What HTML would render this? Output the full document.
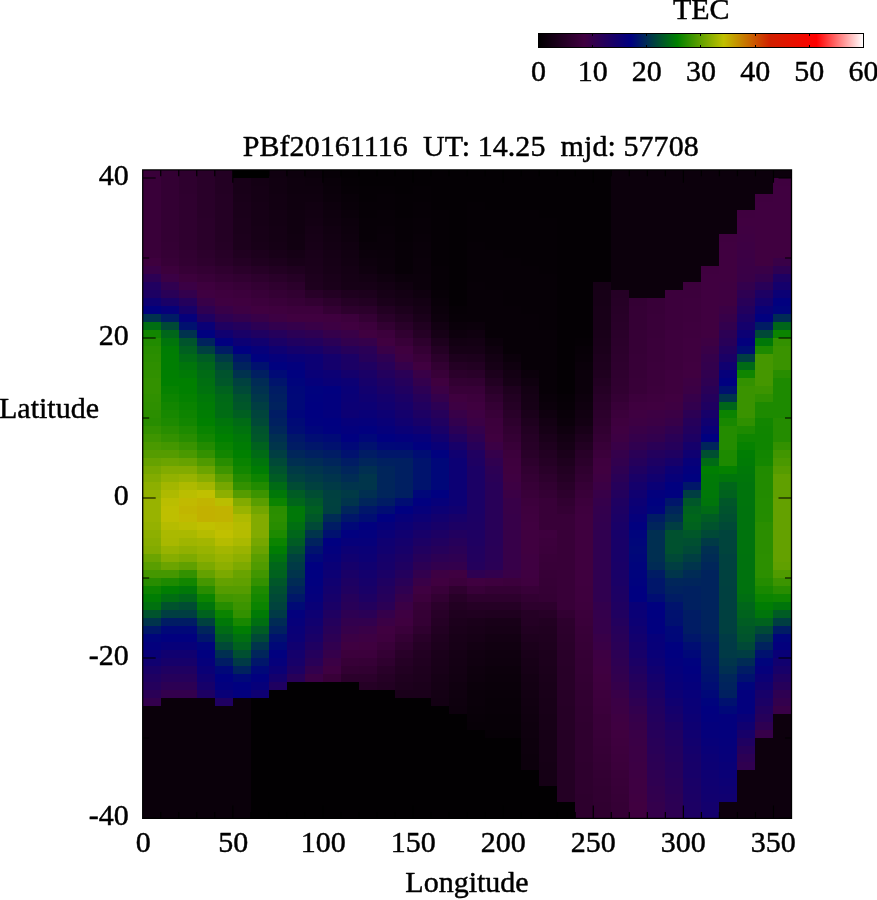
<!DOCTYPE html>
<html lang="en"><head><meta charset="utf-8"><title>TEC map</title>
<style>html,body{margin:0;padding:0;background:#fff;overflow:hidden}svg{display:block}text{font-family:"Liberation Serif",serif;font-size:30px;fill:#000;stroke:#000;stroke-width:.45px;stroke-linejoin:round}</style></head><body>
<svg width="877" height="900" viewBox="0 0 877 900">
<rect width="877" height="900" fill="#fff"/>
<defs><linearGradient id="cb" x1="0" x2="1" y1="0" y2="0"><stop offset="0.00000" stop-color="#000000"/><stop offset="0.14286" stop-color="#400040"/><stop offset="0.28571" stop-color="#000080"/><stop offset="0.42857" stop-color="#008000"/><stop offset="0.57143" stop-color="#c0c000"/><stop offset="0.71429" stop-color="#d02000"/><stop offset="0.85714" stop-color="#ff0000"/><stop offset="1.00000" stop-color="#ffffff"/></linearGradient></defs>
<rect x="538" y="33" width="325" height="14" fill="url(#cb)"/>
<g shape-rendering="crispEdges">
<rect x="143" y="706" width="18" height="112" fill="#0a000a"/><rect x="143" y="698" width="18" height="8" fill="#33004d"/><rect x="143" y="690" width="18" height="8" fill="#2a0056"/><rect x="143" y="682" width="18" height="8" fill="#24005c"/><rect x="143" y="674" width="18" height="8" fill="#1f0061"/><rect x="143" y="666" width="18" height="8" fill="#190067"/><rect x="143" y="658" width="18" height="8" fill="#100070"/><rect x="143" y="650" width="18" height="8" fill="#090077"/><rect x="143" y="642" width="18" height="8" fill="#03007d"/><rect x="143" y="634" width="18" height="8" fill="#00047c"/><rect x="143" y="626" width="18" height="8" fill="#001769"/><rect x="143" y="618" width="18" height="8" fill="#00344c"/><rect x="143" y="610" width="18" height="8" fill="#00532d"/><rect x="143" y="602" width="18" height="8" fill="#00710f"/><rect x="143" y="594" width="18" height="8" fill="#007d03"/><rect x="143" y="586" width="18" height="8" fill="#0d8400"/><rect x="143" y="578" width="18" height="8" fill="#288d00"/><rect x="143" y="570" width="18" height="8" fill="#459700"/><rect x="143" y="562" width="18" height="8" fill="#599e00"/><rect x="143" y="554" width="18" height="8" fill="#6ba400"/><rect x="143" y="546" width="18" height="8" fill="#82ab00"/><rect x="143" y="538" width="18" height="8" fill="#88ad00"/><rect x="143" y="530" width="18" height="8" fill="#8daf00"/><rect x="143" y="522" width="18" height="8" fill="#94b100"/><rect x="143" y="498" width="18" height="24" fill="#98b300"/><rect x="143" y="490" width="18" height="8" fill="#92b100"/><rect x="143" y="482" width="18" height="8" fill="#8daf00"/><rect x="143" y="474" width="18" height="8" fill="#82ab00"/><rect x="143" y="466" width="18" height="8" fill="#76a700"/><rect x="143" y="458" width="18" height="8" fill="#66a200"/><rect x="143" y="450" width="18" height="8" fill="#559c00"/><rect x="143" y="442" width="18" height="8" fill="#4a9900"/><rect x="143" y="434" width="18" height="8" fill="#3e9500"/><rect x="143" y="426" width="18" height="8" fill="#339100"/><rect x="143" y="418" width="18" height="8" fill="#288d00"/><rect x="143" y="410" width="18" height="8" fill="#2b8e00"/><rect x="143" y="402" width="18" height="8" fill="#2e8f00"/><rect x="143" y="394" width="18" height="8" fill="#309000"/><rect x="143" y="378" width="18" height="16" fill="#339100"/><rect x="143" y="370" width="18" height="8" fill="#309000"/><rect x="143" y="362" width="18" height="8" fill="#2e8f00"/><rect x="143" y="354" width="18" height="8" fill="#2b8e00"/><rect x="143" y="346" width="18" height="8" fill="#288d00"/><rect x="143" y="338" width="18" height="8" fill="#218b00"/><rect x="143" y="330" width="18" height="8" fill="#128600"/><rect x="143" y="322" width="18" height="8" fill="#006e12"/><rect x="143" y="314" width="18" height="8" fill="#00324e"/><rect x="143" y="306" width="18" height="8" fill="#01007f"/><rect x="143" y="298" width="18" height="8" fill="#0e0072"/><rect x="143" y="290" width="18" height="8" fill="#1d0063"/><rect x="143" y="282" width="18" height="8" fill="#200060"/><rect x="143" y="274" width="18" height="8" fill="#2c0054"/><rect x="143" y="266" width="18" height="8" fill="#390047"/><rect x="143" y="258" width="18" height="8" fill="#3e003e"/><rect x="143" y="250" width="18" height="8" fill="#3a003a"/><rect x="143" y="170" width="18" height="80" fill="#390039"/>
<rect x="161" y="698" width="18" height="120" fill="#0a000a"/><rect x="161" y="690" width="18" height="8" fill="#33004d"/><rect x="161" y="682" width="18" height="8" fill="#2c0054"/><rect x="161" y="674" width="18" height="8" fill="#25005b"/><rect x="161" y="666" width="18" height="8" fill="#1f0061"/><rect x="161" y="658" width="18" height="8" fill="#16006a"/><rect x="161" y="650" width="18" height="8" fill="#100070"/><rect x="161" y="642" width="18" height="8" fill="#070079"/><rect x="161" y="634" width="18" height="8" fill="#01007f"/><rect x="161" y="626" width="18" height="8" fill="#000878"/><rect x="161" y="618" width="18" height="8" fill="#001c64"/><rect x="161" y="610" width="18" height="8" fill="#003e42"/><rect x="161" y="602" width="18" height="8" fill="#00532d"/><rect x="161" y="594" width="18" height="8" fill="#006e12"/><rect x="161" y="586" width="18" height="8" fill="#007e02"/><rect x="161" y="578" width="18" height="8" fill="#1d8a00"/><rect x="161" y="570" width="18" height="8" fill="#459700"/><rect x="161" y="562" width="18" height="8" fill="#6ba400"/><rect x="161" y="554" width="18" height="8" fill="#86ad00"/><rect x="161" y="546" width="18" height="8" fill="#98b300"/><rect x="161" y="538" width="18" height="8" fill="#a8b800"/><rect x="161" y="530" width="18" height="8" fill="#aab900"/><rect x="161" y="522" width="18" height="8" fill="#b5bc00"/><rect x="161" y="506" width="18" height="16" fill="#bebf00"/><rect x="161" y="498" width="18" height="8" fill="#babe00"/><rect x="161" y="490" width="18" height="8" fill="#aeba00"/><rect x="161" y="482" width="18" height="8" fill="#a3b600"/><rect x="161" y="474" width="18" height="8" fill="#92b100"/><rect x="161" y="466" width="18" height="8" fill="#82ab00"/><rect x="161" y="458" width="18" height="8" fill="#6ba400"/><rect x="161" y="450" width="18" height="8" fill="#559c00"/><rect x="161" y="442" width="18" height="8" fill="#449700"/><rect x="161" y="434" width="18" height="8" fill="#339100"/><rect x="161" y="426" width="18" height="8" fill="#288d00"/><rect x="161" y="418" width="18" height="8" fill="#1d8a00"/><rect x="161" y="410" width="18" height="8" fill="#178800"/><rect x="161" y="402" width="18" height="8" fill="#128600"/><rect x="161" y="394" width="18" height="8" fill="#0c8400"/><rect x="161" y="386" width="18" height="8" fill="#068200"/><rect x="161" y="378" width="18" height="8" fill="#008000"/><rect x="161" y="370" width="18" height="8" fill="#007f01"/><rect x="161" y="354" width="18" height="16" fill="#007e02"/><rect x="161" y="346" width="18" height="8" fill="#007d03"/><rect x="161" y="338" width="18" height="8" fill="#00750b"/><rect x="161" y="330" width="18" height="8" fill="#00661a"/><rect x="161" y="322" width="18" height="8" fill="#004937"/><rect x="161" y="314" width="18" height="8" fill="#001c64"/><rect x="161" y="306" width="18" height="8" fill="#06007a"/><rect x="161" y="298" width="18" height="8" fill="#190067"/><rect x="161" y="290" width="18" height="8" fill="#290057"/><rect x="161" y="282" width="18" height="8" fill="#300050"/><rect x="161" y="274" width="18" height="8" fill="#3b0045"/><rect x="161" y="266" width="18" height="8" fill="#3c003c"/><rect x="161" y="258" width="18" height="8" fill="#370037"/><rect x="161" y="250" width="18" height="8" fill="#350035"/><rect x="161" y="242" width="18" height="8" fill="#340034"/><rect x="161" y="170" width="18" height="72" fill="#330033"/>
<rect x="179" y="698" width="18" height="120" fill="#0a000a"/><rect x="179" y="690" width="18" height="8" fill="#33004d"/><rect x="179" y="682" width="18" height="8" fill="#2c0054"/><rect x="179" y="674" width="18" height="8" fill="#25005b"/><rect x="179" y="666" width="18" height="8" fill="#1f0061"/><rect x="179" y="658" width="18" height="8" fill="#16006a"/><rect x="179" y="650" width="18" height="8" fill="#100070"/><rect x="179" y="642" width="18" height="8" fill="#070079"/><rect x="179" y="634" width="18" height="8" fill="#01007f"/><rect x="179" y="626" width="18" height="8" fill="#000878"/><rect x="179" y="618" width="18" height="8" fill="#001c64"/><rect x="179" y="610" width="18" height="8" fill="#003e42"/><rect x="179" y="602" width="18" height="8" fill="#004d33"/><rect x="179" y="594" width="18" height="8" fill="#00661a"/><rect x="179" y="586" width="18" height="8" fill="#007808"/><rect x="179" y="578" width="18" height="8" fill="#128600"/><rect x="179" y="570" width="18" height="8" fill="#339100"/><rect x="179" y="562" width="18" height="8" fill="#60a000"/><rect x="179" y="554" width="18" height="8" fill="#7daa00"/><rect x="179" y="546" width="18" height="8" fill="#91b000"/><rect x="179" y="538" width="18" height="8" fill="#9fb500"/><rect x="179" y="530" width="18" height="8" fill="#aab900"/><rect x="179" y="522" width="18" height="8" fill="#babe00"/><rect x="179" y="514" width="18" height="8" fill="#c1ba00"/><rect x="179" y="506" width="18" height="8" fill="#c1b600"/><rect x="179" y="498" width="18" height="8" fill="#c1ba00"/><rect x="179" y="490" width="18" height="8" fill="#babe00"/><rect x="179" y="482" width="18" height="8" fill="#aeba00"/><rect x="179" y="474" width="18" height="8" fill="#98b300"/><rect x="179" y="466" width="18" height="8" fill="#82ab00"/><rect x="179" y="458" width="18" height="8" fill="#66a200"/><rect x="179" y="450" width="18" height="8" fill="#4a9900"/><rect x="179" y="442" width="18" height="8" fill="#399300"/><rect x="179" y="434" width="18" height="8" fill="#288d00"/><rect x="179" y="426" width="18" height="8" fill="#1d8a00"/><rect x="179" y="418" width="18" height="8" fill="#128600"/><rect x="179" y="410" width="18" height="8" fill="#0d8400"/><rect x="179" y="402" width="18" height="8" fill="#098300"/><rect x="179" y="394" width="18" height="8" fill="#048100"/><rect x="179" y="378" width="18" height="16" fill="#008000"/><rect x="179" y="370" width="18" height="8" fill="#007a06"/><rect x="179" y="362" width="18" height="8" fill="#00750b"/><rect x="179" y="354" width="18" height="8" fill="#006b15"/><rect x="179" y="346" width="18" height="8" fill="#006020"/><rect x="179" y="338" width="18" height="8" fill="#00542c"/><rect x="179" y="330" width="18" height="8" fill="#00324e"/><rect x="179" y="322" width="18" height="8" fill="#00116f"/><rect x="179" y="314" width="18" height="8" fill="#05007b"/><rect x="179" y="306" width="18" height="8" fill="#170069"/><rect x="179" y="298" width="18" height="8" fill="#24005c"/><rect x="179" y="290" width="18" height="8" fill="#33004d"/><rect x="179" y="282" width="18" height="8" fill="#3b0045"/><rect x="179" y="274" width="18" height="8" fill="#3c003c"/><rect x="179" y="266" width="18" height="8" fill="#360036"/><rect x="179" y="258" width="18" height="8" fill="#320032"/><rect x="179" y="250" width="18" height="8" fill="#310031"/><rect x="179" y="194" width="18" height="56" fill="#2f002f"/><rect x="179" y="170" width="18" height="24" fill="#2e002e"/>
<rect x="197" y="698" width="18" height="120" fill="#0a000a"/><rect x="197" y="690" width="18" height="8" fill="#1d0063"/><rect x="197" y="682" width="18" height="8" fill="#16006a"/><rect x="197" y="674" width="18" height="8" fill="#100070"/><rect x="197" y="666" width="18" height="8" fill="#0a0076"/><rect x="197" y="658" width="18" height="8" fill="#05007b"/><rect x="197" y="650" width="18" height="8" fill="#01007f"/><rect x="197" y="642" width="18" height="8" fill="#00047c"/><rect x="197" y="634" width="18" height="8" fill="#00166a"/><rect x="197" y="626" width="18" height="8" fill="#00255b"/><rect x="197" y="618" width="18" height="8" fill="#00413f"/><rect x="197" y="610" width="18" height="8" fill="#00621e"/><rect x="197" y="602" width="18" height="8" fill="#00750b"/><rect x="197" y="594" width="18" height="8" fill="#0b8400"/><rect x="197" y="586" width="18" height="8" fill="#288d00"/><rect x="197" y="578" width="18" height="8" fill="#459700"/><rect x="197" y="570" width="18" height="8" fill="#64a100"/><rect x="197" y="562" width="18" height="8" fill="#7ba900"/><rect x="197" y="554" width="18" height="8" fill="#8daf00"/><rect x="197" y="546" width="18" height="8" fill="#98b300"/><rect x="197" y="538" width="18" height="8" fill="#a3b600"/><rect x="197" y="530" width="18" height="8" fill="#b5bc00"/><rect x="197" y="522" width="18" height="8" fill="#c0c000"/><rect x="197" y="506" width="18" height="16" fill="#c2b100"/><rect x="197" y="498" width="18" height="8" fill="#c1b500"/><rect x="197" y="490" width="18" height="8" fill="#c0c000"/><rect x="197" y="482" width="18" height="8" fill="#a3b600"/><rect x="197" y="474" width="18" height="8" fill="#87ad00"/><rect x="197" y="466" width="18" height="8" fill="#6ba400"/><rect x="197" y="458" width="18" height="8" fill="#4f9a00"/><rect x="197" y="450" width="18" height="8" fill="#339100"/><rect x="197" y="442" width="18" height="8" fill="#228b00"/><rect x="197" y="434" width="18" height="8" fill="#128600"/><rect x="197" y="426" width="18" height="8" fill="#098300"/><rect x="197" y="418" width="18" height="8" fill="#008000"/><rect x="197" y="410" width="18" height="8" fill="#007d03"/><rect x="197" y="402" width="18" height="8" fill="#007b05"/><rect x="197" y="394" width="18" height="8" fill="#007808"/><rect x="197" y="386" width="18" height="8" fill="#00720e"/><rect x="197" y="378" width="18" height="8" fill="#006f11"/><rect x="197" y="370" width="18" height="8" fill="#006b15"/><rect x="197" y="362" width="18" height="8" fill="#00661a"/><rect x="197" y="354" width="18" height="8" fill="#005c24"/><rect x="197" y="346" width="18" height="8" fill="#004040"/><rect x="197" y="338" width="18" height="8" fill="#00235d"/><rect x="197" y="330" width="18" height="8" fill="#00017f"/><rect x="197" y="322" width="18" height="8" fill="#0a0076"/><rect x="197" y="314" width="18" height="8" fill="#1f0061"/><rect x="197" y="306" width="18" height="8" fill="#2e0052"/><rect x="197" y="298" width="18" height="8" fill="#380048"/><rect x="197" y="290" width="18" height="8" fill="#3f0041"/><rect x="197" y="282" width="18" height="8" fill="#3e003e"/><rect x="197" y="274" width="18" height="8" fill="#380038"/><rect x="197" y="266" width="18" height="8" fill="#330033"/><rect x="197" y="258" width="18" height="8" fill="#2e002e"/><rect x="197" y="250" width="18" height="8" fill="#2c002c"/><rect x="197" y="218" width="18" height="32" fill="#2a002a"/><rect x="197" y="170" width="18" height="48" fill="#290029"/>
<rect x="215" y="706" width="18" height="112" fill="#0a000a"/><rect x="215" y="698" width="18" height="8" fill="#1f0061"/><rect x="215" y="690" width="18" height="8" fill="#090077"/><rect x="215" y="682" width="18" height="8" fill="#03007d"/><rect x="215" y="674" width="18" height="8" fill="#000080"/><rect x="215" y="666" width="18" height="8" fill="#000878"/><rect x="215" y="658" width="18" height="8" fill="#001c64"/><rect x="215" y="650" width="18" height="8" fill="#002f51"/><rect x="215" y="642" width="18" height="8" fill="#004937"/><rect x="215" y="634" width="18" height="8" fill="#005c24"/><rect x="215" y="626" width="18" height="8" fill="#006b15"/><rect x="215" y="618" width="18" height="8" fill="#007808"/><rect x="215" y="610" width="18" height="8" fill="#0b8400"/><rect x="215" y="602" width="18" height="8" fill="#268d00"/><rect x="215" y="594" width="18" height="8" fill="#419600"/><rect x="215" y="586" width="18" height="8" fill="#559c00"/><rect x="215" y="578" width="18" height="8" fill="#64a100"/><rect x="215" y="570" width="18" height="8" fill="#7ba900"/><rect x="215" y="562" width="18" height="8" fill="#8daf00"/><rect x="215" y="554" width="18" height="8" fill="#98b300"/><rect x="215" y="546" width="18" height="8" fill="#a3b600"/><rect x="215" y="538" width="18" height="8" fill="#b5bc00"/><rect x="215" y="530" width="18" height="8" fill="#c0c000"/><rect x="215" y="522" width="18" height="8" fill="#c0bc00"/><rect x="215" y="506" width="18" height="16" fill="#c1b300"/><rect x="215" y="498" width="18" height="8" fill="#babe00"/><rect x="215" y="490" width="18" height="8" fill="#8daf00"/><rect x="215" y="482" width="18" height="8" fill="#76a700"/><rect x="215" y="474" width="18" height="8" fill="#5a9e00"/><rect x="215" y="466" width="18" height="8" fill="#3e9500"/><rect x="215" y="458" width="18" height="8" fill="#288d00"/><rect x="215" y="450" width="18" height="8" fill="#128600"/><rect x="215" y="442" width="18" height="8" fill="#098300"/><rect x="215" y="434" width="18" height="8" fill="#008000"/><rect x="215" y="426" width="18" height="8" fill="#007b05"/><rect x="215" y="418" width="18" height="8" fill="#00750b"/><rect x="215" y="410" width="18" height="8" fill="#006c14"/><rect x="215" y="402" width="18" height="8" fill="#006b15"/><rect x="215" y="394" width="18" height="8" fill="#006917"/><rect x="215" y="386" width="18" height="8" fill="#00621e"/><rect x="215" y="378" width="18" height="8" fill="#005729"/><rect x="215" y="370" width="18" height="8" fill="#00532d"/><rect x="215" y="362" width="18" height="8" fill="#004937"/><rect x="215" y="354" width="18" height="8" fill="#003a46"/><rect x="215" y="346" width="18" height="8" fill="#001c64"/><rect x="215" y="338" width="18" height="8" fill="#01007f"/><rect x="215" y="330" width="18" height="8" fill="#100070"/><rect x="215" y="322" width="18" height="8" fill="#1f0061"/><rect x="215" y="314" width="18" height="8" fill="#2e0052"/><rect x="215" y="306" width="18" height="8" fill="#380048"/><rect x="215" y="298" width="18" height="8" fill="#3f0041"/><rect x="215" y="290" width="18" height="8" fill="#3e003e"/><rect x="215" y="282" width="18" height="8" fill="#3a003a"/><rect x="215" y="274" width="18" height="8" fill="#340034"/><rect x="215" y="266" width="18" height="8" fill="#2f002f"/><rect x="215" y="258" width="18" height="8" fill="#290029"/><rect x="215" y="250" width="18" height="8" fill="#270027"/><rect x="215" y="242" width="18" height="8" fill="#250025"/><rect x="215" y="194" width="18" height="48" fill="#240024"/><rect x="215" y="170" width="18" height="24" fill="#230023"/>
<rect x="233" y="698" width="18" height="120" fill="#0a000a"/><rect x="233" y="690" width="18" height="8" fill="#03007d"/><rect x="233" y="682" width="18" height="8" fill="#000080"/><rect x="233" y="674" width="18" height="8" fill="#000878"/><rect x="233" y="666" width="18" height="8" fill="#00225e"/><rect x="233" y="658" width="18" height="8" fill="#003a46"/><rect x="233" y="650" width="18" height="8" fill="#004f31"/><rect x="233" y="642" width="18" height="8" fill="#00621e"/><rect x="233" y="634" width="18" height="8" fill="#006f11"/><rect x="233" y="626" width="18" height="8" fill="#007d03"/><rect x="233" y="618" width="18" height="8" fill="#188800"/><rect x="233" y="610" width="18" height="8" fill="#339100"/><rect x="233" y="602" width="18" height="8" fill="#3c9400"/><rect x="233" y="594" width="18" height="8" fill="#459700"/><rect x="233" y="586" width="18" height="8" fill="#559c00"/><rect x="233" y="578" width="18" height="8" fill="#60a000"/><rect x="233" y="570" width="18" height="8" fill="#69a300"/><rect x="233" y="562" width="18" height="8" fill="#7daa00"/><rect x="233" y="554" width="18" height="8" fill="#8daf00"/><rect x="233" y="546" width="18" height="8" fill="#9ab300"/><rect x="233" y="538" width="18" height="8" fill="#aab900"/><rect x="233" y="522" width="18" height="16" fill="#b5bc00"/><rect x="233" y="514" width="18" height="8" fill="#aeba00"/><rect x="233" y="506" width="18" height="8" fill="#98b300"/><rect x="233" y="498" width="18" height="8" fill="#82ab00"/><rect x="233" y="490" width="18" height="8" fill="#559c00"/><rect x="233" y="482" width="18" height="8" fill="#339100"/><rect x="233" y="474" width="18" height="8" fill="#228b00"/><rect x="233" y="466" width="18" height="8" fill="#128600"/><rect x="233" y="458" width="18" height="8" fill="#098300"/><rect x="233" y="450" width="18" height="8" fill="#008000"/><rect x="233" y="442" width="18" height="8" fill="#007c04"/><rect x="233" y="434" width="18" height="8" fill="#007808"/><rect x="233" y="426" width="18" height="8" fill="#00720e"/><rect x="233" y="418" width="18" height="8" fill="#006b15"/><rect x="233" y="410" width="18" height="8" fill="#005f21"/><rect x="233" y="402" width="18" height="8" fill="#005729"/><rect x="233" y="394" width="18" height="8" fill="#00532d"/><rect x="233" y="386" width="18" height="8" fill="#004937"/><rect x="233" y="378" width="18" height="8" fill="#00413f"/><rect x="233" y="370" width="18" height="8" fill="#00324e"/><rect x="233" y="362" width="18" height="8" fill="#00235d"/><rect x="233" y="354" width="18" height="8" fill="#001769"/><rect x="233" y="346" width="18" height="8" fill="#000080"/><rect x="233" y="338" width="18" height="8" fill="#0c0074"/><rect x="233" y="330" width="18" height="8" fill="#190067"/><rect x="233" y="322" width="18" height="8" fill="#24005c"/><rect x="233" y="314" width="18" height="8" fill="#33004d"/><rect x="233" y="306" width="18" height="8" fill="#3d0043"/><rect x="233" y="298" width="18" height="8" fill="#3f003f"/><rect x="233" y="290" width="18" height="8" fill="#3c003c"/><rect x="233" y="282" width="18" height="8" fill="#370037"/><rect x="233" y="274" width="18" height="8" fill="#310031"/><rect x="233" y="266" width="18" height="8" fill="#2a002a"/><rect x="233" y="258" width="18" height="8" fill="#240024"/><rect x="233" y="250" width="18" height="8" fill="#200020"/><rect x="233" y="234" width="18" height="16" fill="#1c001c"/><rect x="233" y="218" width="18" height="16" fill="#1b001b"/><rect x="233" y="202" width="18" height="16" fill="#1a001a"/><rect x="233" y="194" width="18" height="8" fill="#190019"/><rect x="233" y="178" width="18" height="16" fill="#180018"/><rect x="233" y="170" width="18" height="8" fill="#000000"/>
<rect x="251" y="698" width="18" height="120" fill="#020002"/><rect x="251" y="690" width="18" height="8" fill="#0e0072"/><rect x="251" y="682" width="18" height="8" fill="#06007a"/><rect x="251" y="674" width="18" height="8" fill="#01007f"/><rect x="251" y="666" width="18" height="8" fill="#000878"/><rect x="251" y="658" width="18" height="8" fill="#00166a"/><rect x="251" y="650" width="18" height="8" fill="#00255b"/><rect x="251" y="642" width="18" height="8" fill="#00344c"/><rect x="251" y="634" width="18" height="8" fill="#004937"/><rect x="251" y="626" width="18" height="8" fill="#005c24"/><rect x="251" y="618" width="18" height="8" fill="#006f11"/><rect x="251" y="610" width="18" height="8" fill="#007b05"/><rect x="251" y="602" width="18" height="8" fill="#0b8400"/><rect x="251" y="594" width="18" height="8" fill="#148700"/><rect x="251" y="586" width="18" height="8" fill="#1d8a00"/><rect x="251" y="578" width="18" height="8" fill="#339100"/><rect x="251" y="570" width="18" height="8" fill="#419600"/><rect x="251" y="562" width="18" height="8" fill="#509b00"/><rect x="251" y="554" width="18" height="8" fill="#599e00"/><rect x="251" y="546" width="18" height="8" fill="#69a300"/><rect x="251" y="538" width="18" height="8" fill="#76a700"/><rect x="251" y="514" width="18" height="24" fill="#82ab00"/><rect x="251" y="506" width="18" height="8" fill="#72a600"/><rect x="251" y="498" width="18" height="8" fill="#599e00"/><rect x="251" y="490" width="18" height="8" fill="#3c9400"/><rect x="251" y="482" width="18" height="8" fill="#218b00"/><rect x="251" y="474" width="18" height="8" fill="#0d8400"/><rect x="251" y="466" width="18" height="8" fill="#007d03"/><rect x="251" y="458" width="18" height="8" fill="#00750b"/><rect x="251" y="450" width="18" height="8" fill="#006b15"/><rect x="251" y="442" width="18" height="8" fill="#00621e"/><rect x="251" y="434" width="18" height="8" fill="#005729"/><rect x="251" y="426" width="18" height="8" fill="#00532d"/><rect x="251" y="418" width="18" height="8" fill="#004937"/><rect x="251" y="410" width="18" height="8" fill="#00443c"/><rect x="251" y="402" width="18" height="8" fill="#003e42"/><rect x="251" y="394" width="18" height="8" fill="#003749"/><rect x="251" y="386" width="18" height="8" fill="#00314f"/><rect x="251" y="378" width="18" height="8" fill="#002b55"/><rect x="251" y="370" width="18" height="8" fill="#001f61"/><rect x="251" y="362" width="18" height="8" fill="#00116f"/><rect x="251" y="354" width="18" height="8" fill="#00017f"/><rect x="251" y="346" width="18" height="8" fill="#06007a"/><rect x="251" y="338" width="18" height="8" fill="#11006f"/><rect x="251" y="330" width="18" height="8" fill="#1f0061"/><rect x="251" y="322" width="18" height="8" fill="#2c0054"/><rect x="251" y="314" width="18" height="8" fill="#380048"/><rect x="251" y="306" width="18" height="8" fill="#400040"/><rect x="251" y="298" width="18" height="8" fill="#3c003c"/><rect x="251" y="290" width="18" height="8" fill="#380038"/><rect x="251" y="282" width="18" height="8" fill="#330033"/><rect x="251" y="274" width="18" height="8" fill="#2d002d"/><rect x="251" y="266" width="18" height="8" fill="#260026"/><rect x="251" y="258" width="18" height="8" fill="#1f001f"/><rect x="251" y="250" width="18" height="8" fill="#1c001c"/><rect x="251" y="242" width="18" height="8" fill="#180018"/><rect x="251" y="226" width="18" height="16" fill="#170017"/><rect x="251" y="202" width="18" height="24" fill="#160016"/><rect x="251" y="186" width="18" height="16" fill="#150015"/><rect x="251" y="178" width="18" height="8" fill="#140014"/><rect x="251" y="170" width="18" height="8" fill="#000000"/>
<rect x="269" y="690" width="18" height="128" fill="#020002"/><rect x="269" y="682" width="18" height="8" fill="#1f0061"/><rect x="269" y="674" width="18" height="8" fill="#14006c"/><rect x="269" y="666" width="18" height="8" fill="#0b0075"/><rect x="269" y="658" width="18" height="8" fill="#05007b"/><rect x="269" y="650" width="18" height="8" fill="#01007f"/><rect x="269" y="642" width="18" height="8" fill="#000878"/><rect x="269" y="634" width="18" height="8" fill="#00116f"/><rect x="269" y="626" width="18" height="8" fill="#002060"/><rect x="269" y="618" width="18" height="8" fill="#002b55"/><rect x="269" y="610" width="18" height="8" fill="#003a46"/><rect x="269" y="602" width="18" height="8" fill="#00433d"/><rect x="269" y="594" width="18" height="8" fill="#004937"/><rect x="269" y="586" width="18" height="8" fill="#004f31"/><rect x="269" y="578" width="18" height="8" fill="#005729"/><rect x="269" y="570" width="18" height="8" fill="#00621e"/><rect x="269" y="562" width="18" height="8" fill="#00661a"/><rect x="269" y="554" width="18" height="8" fill="#00710f"/><rect x="269" y="546" width="18" height="8" fill="#007d03"/><rect x="269" y="538" width="18" height="8" fill="#0b8400"/><rect x="269" y="530" width="18" height="8" fill="#1d8a00"/><rect x="269" y="522" width="18" height="8" fill="#288d00"/><rect x="269" y="514" width="18" height="8" fill="#2c8f00"/><rect x="269" y="506" width="18" height="8" fill="#2a8e00"/><rect x="269" y="498" width="18" height="8" fill="#0b8400"/><rect x="269" y="490" width="18" height="8" fill="#007808"/><rect x="269" y="482" width="18" height="8" fill="#006b15"/><rect x="269" y="474" width="18" height="8" fill="#005c24"/><rect x="269" y="466" width="18" height="8" fill="#00532d"/><rect x="269" y="458" width="18" height="8" fill="#004937"/><rect x="269" y="450" width="18" height="8" fill="#003e42"/><rect x="269" y="442" width="18" height="8" fill="#00354b"/><rect x="269" y="434" width="18" height="8" fill="#002f51"/><rect x="269" y="426" width="18" height="8" fill="#00265a"/><rect x="269" y="418" width="18" height="8" fill="#002060"/><rect x="269" y="410" width="18" height="8" fill="#001c64"/><rect x="269" y="402" width="18" height="8" fill="#00225e"/><rect x="269" y="394" width="18" height="8" fill="#001f61"/><rect x="269" y="386" width="18" height="8" fill="#001c64"/><rect x="269" y="378" width="18" height="8" fill="#00146c"/><rect x="269" y="370" width="18" height="8" fill="#000a76"/><rect x="269" y="362" width="18" height="8" fill="#00017f"/><rect x="269" y="354" width="18" height="8" fill="#05007b"/><rect x="269" y="346" width="18" height="8" fill="#0e0072"/><rect x="269" y="338" width="18" height="8" fill="#1a0066"/><rect x="269" y="330" width="18" height="8" fill="#25005b"/><rect x="269" y="322" width="18" height="8" fill="#32004e"/><rect x="269" y="314" width="18" height="8" fill="#3d0043"/><rect x="269" y="306" width="18" height="8" fill="#3e003e"/><rect x="269" y="298" width="18" height="8" fill="#390039"/><rect x="269" y="290" width="18" height="8" fill="#340034"/><rect x="269" y="282" width="18" height="8" fill="#2f002f"/><rect x="269" y="274" width="18" height="8" fill="#290029"/><rect x="269" y="266" width="18" height="8" fill="#220022"/><rect x="269" y="258" width="18" height="8" fill="#1c001c"/><rect x="269" y="250" width="18" height="8" fill="#180018"/><rect x="269" y="242" width="18" height="8" fill="#150015"/><rect x="269" y="226" width="18" height="16" fill="#140014"/><rect x="269" y="210" width="18" height="16" fill="#130013"/><rect x="269" y="194" width="18" height="16" fill="#120012"/><rect x="269" y="178" width="18" height="16" fill="#110011"/><rect x="269" y="170" width="18" height="8" fill="#100010"/>
<rect x="287" y="682" width="18" height="136" fill="#020002"/><rect x="287" y="674" width="18" height="8" fill="#280058"/><rect x="287" y="666" width="18" height="8" fill="#1d0063"/><rect x="287" y="658" width="18" height="8" fill="#170069"/><rect x="287" y="650" width="18" height="8" fill="#14006c"/><rect x="287" y="642" width="18" height="8" fill="#100070"/><rect x="287" y="634" width="18" height="8" fill="#0b0075"/><rect x="287" y="626" width="18" height="8" fill="#090077"/><rect x="287" y="618" width="18" height="8" fill="#06007a"/><rect x="287" y="610" width="18" height="8" fill="#03007d"/><rect x="287" y="602" width="18" height="8" fill="#000a76"/><rect x="287" y="594" width="18" height="8" fill="#001769"/><rect x="287" y="586" width="18" height="8" fill="#00225e"/><rect x="287" y="578" width="18" height="8" fill="#002b55"/><rect x="287" y="570" width="18" height="8" fill="#00344c"/><rect x="287" y="562" width="18" height="8" fill="#003a46"/><rect x="287" y="554" width="18" height="8" fill="#00413f"/><rect x="287" y="546" width="18" height="8" fill="#004f31"/><rect x="287" y="538" width="18" height="8" fill="#005c24"/><rect x="287" y="530" width="18" height="8" fill="#00661a"/><rect x="287" y="522" width="18" height="8" fill="#006f11"/><rect x="287" y="506" width="18" height="16" fill="#007808"/><rect x="287" y="498" width="18" height="8" fill="#00661a"/><rect x="287" y="490" width="18" height="8" fill="#005c24"/><rect x="287" y="482" width="18" height="8" fill="#004c34"/><rect x="287" y="474" width="18" height="8" fill="#00413f"/><rect x="287" y="466" width="18" height="8" fill="#003a46"/><rect x="287" y="458" width="18" height="8" fill="#002f51"/><rect x="287" y="450" width="18" height="8" fill="#00265a"/><rect x="287" y="442" width="18" height="8" fill="#001c64"/><rect x="287" y="434" width="18" height="8" fill="#001769"/><rect x="287" y="426" width="18" height="8" fill="#000d73"/><rect x="287" y="418" width="18" height="8" fill="#000a76"/><rect x="287" y="410" width="18" height="8" fill="#00057b"/><rect x="287" y="394" width="18" height="16" fill="#000878"/><rect x="287" y="386" width="18" height="8" fill="#000779"/><rect x="287" y="378" width="18" height="8" fill="#00047c"/><rect x="287" y="370" width="18" height="8" fill="#00017f"/><rect x="287" y="362" width="18" height="8" fill="#03007d"/><rect x="287" y="354" width="18" height="8" fill="#090077"/><rect x="287" y="346" width="18" height="8" fill="#14006c"/><rect x="287" y="338" width="18" height="8" fill="#200060"/><rect x="287" y="330" width="18" height="8" fill="#2b0055"/><rect x="287" y="322" width="18" height="8" fill="#35004b"/><rect x="287" y="314" width="18" height="8" fill="#400040"/><rect x="287" y="306" width="18" height="8" fill="#3c003c"/><rect x="287" y="298" width="18" height="8" fill="#360036"/><rect x="287" y="290" width="18" height="8" fill="#310031"/><rect x="287" y="282" width="18" height="8" fill="#2b002b"/><rect x="287" y="274" width="18" height="8" fill="#250025"/><rect x="287" y="266" width="18" height="8" fill="#1f001f"/><rect x="287" y="258" width="18" height="8" fill="#180018"/><rect x="287" y="250" width="18" height="8" fill="#150015"/><rect x="287" y="234" width="18" height="16" fill="#110011"/><rect x="287" y="210" width="18" height="24" fill="#100010"/><rect x="287" y="194" width="18" height="16" fill="#0f000f"/><rect x="287" y="178" width="18" height="16" fill="#0e000e"/><rect x="287" y="170" width="18" height="8" fill="#0d000d"/>
<rect x="305" y="682" width="18" height="136" fill="#020002"/><rect x="305" y="674" width="18" height="8" fill="#3b0045"/><rect x="305" y="666" width="18" height="8" fill="#32004e"/><rect x="305" y="658" width="18" height="8" fill="#290057"/><rect x="305" y="650" width="18" height="8" fill="#24005c"/><rect x="305" y="642" width="18" height="8" fill="#1f0061"/><rect x="305" y="634" width="18" height="8" fill="#190067"/><rect x="305" y="626" width="18" height="8" fill="#15006b"/><rect x="305" y="618" width="18" height="8" fill="#11006f"/><rect x="305" y="610" width="18" height="8" fill="#0d0073"/><rect x="305" y="602" width="18" height="8" fill="#090077"/><rect x="305" y="594" width="18" height="8" fill="#05007b"/><rect x="305" y="586" width="18" height="8" fill="#03007d"/><rect x="305" y="578" width="18" height="8" fill="#01007f"/><rect x="305" y="562" width="18" height="16" fill="#000080"/><rect x="305" y="554" width="18" height="8" fill="#000878"/><rect x="305" y="546" width="18" height="8" fill="#00136d"/><rect x="305" y="538" width="18" height="8" fill="#00225e"/><rect x="305" y="530" width="18" height="8" fill="#00344c"/><rect x="305" y="522" width="18" height="8" fill="#004937"/><rect x="305" y="514" width="18" height="8" fill="#005729"/><rect x="305" y="506" width="18" height="8" fill="#005f21"/><rect x="305" y="498" width="18" height="8" fill="#005729"/><rect x="305" y="490" width="18" height="8" fill="#004d33"/><rect x="305" y="482" width="18" height="8" fill="#00413f"/><rect x="305" y="474" width="18" height="8" fill="#003a46"/><rect x="305" y="466" width="18" height="8" fill="#00344c"/><rect x="305" y="458" width="18" height="8" fill="#002b55"/><rect x="305" y="450" width="18" height="8" fill="#002060"/><rect x="305" y="442" width="18" height="8" fill="#00166a"/><rect x="305" y="434" width="18" height="8" fill="#000d73"/><rect x="305" y="426" width="18" height="8" fill="#00057b"/><rect x="305" y="418" width="18" height="8" fill="#00017f"/><rect x="305" y="402" width="18" height="16" fill="#000080"/><rect x="305" y="394" width="18" height="8" fill="#00017f"/><rect x="305" y="386" width="18" height="8" fill="#00027e"/><rect x="305" y="378" width="18" height="8" fill="#05007b"/><rect x="305" y="370" width="18" height="8" fill="#090077"/><rect x="305" y="354" width="18" height="16" fill="#0c0074"/><rect x="305" y="346" width="18" height="8" fill="#170069"/><rect x="305" y="338" width="18" height="8" fill="#23005d"/><rect x="305" y="330" width="18" height="8" fill="#2e0052"/><rect x="305" y="322" width="18" height="8" fill="#390047"/><rect x="305" y="314" width="18" height="8" fill="#400040"/><rect x="305" y="306" width="18" height="8" fill="#3c003c"/><rect x="305" y="298" width="18" height="8" fill="#320032"/><rect x="305" y="290" width="18" height="8" fill="#280028"/><rect x="305" y="282" width="18" height="8" fill="#1e001e"/><rect x="305" y="274" width="18" height="8" fill="#1d001d"/><rect x="305" y="266" width="18" height="8" fill="#1b001b"/><rect x="305" y="258" width="18" height="8" fill="#1a001a"/><rect x="305" y="250" width="18" height="8" fill="#190019"/><rect x="305" y="242" width="18" height="8" fill="#170017"/><rect x="305" y="234" width="18" height="8" fill="#160016"/><rect x="305" y="226" width="18" height="8" fill="#150015"/><rect x="305" y="218" width="18" height="8" fill="#130013"/><rect x="305" y="210" width="18" height="8" fill="#120012"/><rect x="305" y="202" width="18" height="8" fill="#110011"/><rect x="305" y="194" width="18" height="8" fill="#0f000f"/><rect x="305" y="186" width="18" height="8" fill="#0e000e"/><rect x="305" y="178" width="18" height="8" fill="#0d000d"/><rect x="305" y="170" width="18" height="8" fill="#0b000b"/>
<rect x="323" y="682" width="18" height="136" fill="#020002"/><rect x="323" y="674" width="18" height="8" fill="#380038"/><rect x="323" y="666" width="18" height="8" fill="#3f0041"/><rect x="323" y="658" width="18" height="8" fill="#3b0045"/><rect x="323" y="650" width="18" height="8" fill="#35004b"/><rect x="323" y="642" width="18" height="8" fill="#31004f"/><rect x="323" y="634" width="18" height="8" fill="#2c0054"/><rect x="323" y="626" width="18" height="8" fill="#280058"/><rect x="323" y="618" width="18" height="8" fill="#24005c"/><rect x="323" y="610" width="18" height="8" fill="#1f0061"/><rect x="323" y="602" width="18" height="8" fill="#1a0066"/><rect x="323" y="594" width="18" height="8" fill="#16006a"/><rect x="323" y="586" width="18" height="8" fill="#13006d"/><rect x="323" y="578" width="18" height="8" fill="#100070"/><rect x="323" y="570" width="18" height="8" fill="#0c0074"/><rect x="323" y="562" width="18" height="8" fill="#0a0076"/><rect x="323" y="554" width="18" height="8" fill="#06007a"/><rect x="323" y="546" width="18" height="8" fill="#03007d"/><rect x="323" y="538" width="18" height="8" fill="#000080"/><rect x="323" y="530" width="18" height="8" fill="#00116f"/><rect x="323" y="522" width="18" height="8" fill="#001c64"/><rect x="323" y="514" width="18" height="8" fill="#002b55"/><rect x="323" y="506" width="18" height="8" fill="#004040"/><rect x="323" y="498" width="18" height="8" fill="#00413f"/><rect x="323" y="490" width="18" height="8" fill="#004040"/><rect x="323" y="482" width="18" height="8" fill="#003a46"/><rect x="323" y="474" width="18" height="8" fill="#00344c"/><rect x="323" y="466" width="18" height="8" fill="#002e52"/><rect x="323" y="458" width="18" height="8" fill="#00255b"/><rect x="323" y="450" width="18" height="8" fill="#001c64"/><rect x="323" y="442" width="18" height="8" fill="#00116f"/><rect x="323" y="434" width="18" height="8" fill="#000a76"/><rect x="323" y="426" width="18" height="8" fill="#00017f"/><rect x="323" y="418" width="18" height="8" fill="#000080"/><rect x="323" y="410" width="18" height="8" fill="#03007d"/><rect x="323" y="394" width="18" height="16" fill="#02007e"/><rect x="323" y="386" width="18" height="8" fill="#01007f"/><rect x="323" y="378" width="18" height="8" fill="#090077"/><rect x="323" y="370" width="18" height="8" fill="#0c0074"/><rect x="323" y="354" width="18" height="16" fill="#14006c"/><rect x="323" y="346" width="18" height="8" fill="#1f0061"/><rect x="323" y="338" width="18" height="8" fill="#2a0056"/><rect x="323" y="330" width="18" height="8" fill="#35004b"/><rect x="323" y="322" width="18" height="8" fill="#3d0043"/><rect x="323" y="314" width="18" height="8" fill="#3f003f"/><rect x="323" y="306" width="18" height="8" fill="#340034"/><rect x="323" y="298" width="18" height="8" fill="#2c002c"/><rect x="323" y="290" width="18" height="8" fill="#230023"/><rect x="323" y="282" width="18" height="8" fill="#1a001a"/><rect x="323" y="274" width="18" height="8" fill="#190019"/><rect x="323" y="266" width="18" height="8" fill="#170017"/><rect x="323" y="258" width="18" height="8" fill="#160016"/><rect x="323" y="250" width="18" height="8" fill="#150015"/><rect x="323" y="242" width="18" height="8" fill="#130013"/><rect x="323" y="234" width="18" height="8" fill="#120012"/><rect x="323" y="226" width="18" height="8" fill="#110011"/><rect x="323" y="218" width="18" height="8" fill="#0f000f"/><rect x="323" y="210" width="18" height="8" fill="#0e000e"/><rect x="323" y="202" width="18" height="8" fill="#0d000d"/><rect x="323" y="194" width="18" height="8" fill="#0b000b"/><rect x="323" y="186" width="18" height="8" fill="#0a000a"/><rect x="323" y="178" width="18" height="8" fill="#090009"/><rect x="323" y="170" width="18" height="8" fill="#070007"/>
<rect x="341" y="682" width="18" height="136" fill="#020002"/><rect x="341" y="674" width="18" height="8" fill="#2b002b"/><rect x="341" y="666" width="18" height="8" fill="#320032"/><rect x="341" y="658" width="18" height="8" fill="#370037"/><rect x="341" y="650" width="18" height="8" fill="#3c003c"/><rect x="341" y="642" width="18" height="8" fill="#3f0041"/><rect x="341" y="634" width="18" height="8" fill="#3b0045"/><rect x="341" y="626" width="18" height="8" fill="#36004a"/><rect x="341" y="618" width="18" height="8" fill="#32004e"/><rect x="341" y="610" width="18" height="8" fill="#2d0053"/><rect x="341" y="602" width="18" height="8" fill="#280058"/><rect x="341" y="594" width="18" height="8" fill="#25005b"/><rect x="341" y="586" width="18" height="8" fill="#200060"/><rect x="341" y="578" width="18" height="8" fill="#1d0063"/><rect x="341" y="570" width="18" height="8" fill="#190067"/><rect x="341" y="562" width="18" height="8" fill="#15006b"/><rect x="341" y="554" width="18" height="8" fill="#100070"/><rect x="341" y="546" width="18" height="8" fill="#0c0074"/><rect x="341" y="538" width="18" height="8" fill="#06007a"/><rect x="341" y="530" width="18" height="8" fill="#01007f"/><rect x="341" y="522" width="18" height="8" fill="#000878"/><rect x="341" y="514" width="18" height="8" fill="#00166a"/><rect x="341" y="506" width="18" height="8" fill="#00255b"/><rect x="341" y="498" width="18" height="8" fill="#00344c"/><rect x="341" y="490" width="18" height="8" fill="#003a46"/><rect x="341" y="482" width="18" height="8" fill="#00344c"/><rect x="341" y="474" width="18" height="8" fill="#002c54"/><rect x="341" y="466" width="18" height="8" fill="#00255b"/><rect x="341" y="458" width="18" height="8" fill="#001c64"/><rect x="341" y="450" width="18" height="8" fill="#00116f"/><rect x="341" y="442" width="18" height="8" fill="#000878"/><rect x="341" y="434" width="18" height="8" fill="#000080"/><rect x="341" y="426" width="18" height="8" fill="#03007d"/><rect x="341" y="418" width="18" height="8" fill="#06007a"/><rect x="341" y="410" width="18" height="8" fill="#0c0074"/><rect x="341" y="402" width="18" height="8" fill="#0b0075"/><rect x="341" y="394" width="18" height="8" fill="#0a0076"/><rect x="341" y="386" width="18" height="8" fill="#090077"/><rect x="341" y="378" width="18" height="8" fill="#0c0074"/><rect x="341" y="370" width="18" height="8" fill="#14006c"/><rect x="341" y="354" width="18" height="16" fill="#1b0065"/><rect x="341" y="346" width="18" height="8" fill="#26005a"/><rect x="341" y="338" width="18" height="8" fill="#32004e"/><rect x="341" y="330" width="18" height="8" fill="#390047"/><rect x="341" y="322" width="18" height="8" fill="#400040"/><rect x="341" y="314" width="18" height="8" fill="#3c003c"/><rect x="341" y="306" width="18" height="8" fill="#2d002d"/><rect x="341" y="298" width="18" height="8" fill="#250025"/><rect x="341" y="290" width="18" height="8" fill="#1e001e"/><rect x="341" y="282" width="18" height="8" fill="#160016"/><rect x="341" y="274" width="18" height="8" fill="#150015"/><rect x="341" y="266" width="18" height="8" fill="#140014"/><rect x="341" y="258" width="18" height="8" fill="#120012"/><rect x="341" y="250" width="18" height="8" fill="#110011"/><rect x="341" y="242" width="18" height="8" fill="#100010"/><rect x="341" y="234" width="18" height="8" fill="#0e000e"/><rect x="341" y="226" width="18" height="8" fill="#0d000d"/><rect x="341" y="218" width="18" height="8" fill="#0c000c"/><rect x="341" y="210" width="18" height="8" fill="#0a000a"/><rect x="341" y="202" width="18" height="8" fill="#090009"/><rect x="341" y="194" width="18" height="8" fill="#080008"/><rect x="341" y="186" width="18" height="8" fill="#060006"/><rect x="341" y="178" width="18" height="8" fill="#050005"/><rect x="341" y="170" width="18" height="8" fill="#040004"/>
<rect x="359" y="690" width="18" height="128" fill="#020002"/><rect x="359" y="682" width="18" height="8" fill="#250025"/><rect x="359" y="674" width="18" height="8" fill="#2b002b"/><rect x="359" y="666" width="18" height="8" fill="#310031"/><rect x="359" y="658" width="18" height="8" fill="#360036"/><rect x="359" y="650" width="18" height="8" fill="#3c003c"/><rect x="359" y="642" width="18" height="8" fill="#3f003f"/><rect x="359" y="634" width="18" height="8" fill="#3d0043"/><rect x="359" y="626" width="18" height="8" fill="#390047"/><rect x="359" y="618" width="18" height="8" fill="#32004e"/><rect x="359" y="610" width="18" height="8" fill="#2a0056"/><rect x="359" y="602" width="18" height="8" fill="#23005d"/><rect x="359" y="594" width="18" height="8" fill="#1d0063"/><rect x="359" y="586" width="18" height="8" fill="#190067"/><rect x="359" y="578" width="18" height="8" fill="#16006a"/><rect x="359" y="570" width="18" height="8" fill="#13006d"/><rect x="359" y="562" width="18" height="8" fill="#100070"/><rect x="359" y="554" width="18" height="8" fill="#0c0074"/><rect x="359" y="546" width="18" height="8" fill="#0a0076"/><rect x="359" y="538" width="18" height="8" fill="#06007a"/><rect x="359" y="530" width="18" height="8" fill="#03007d"/><rect x="359" y="522" width="18" height="8" fill="#01007f"/><rect x="359" y="514" width="18" height="8" fill="#000d73"/><rect x="359" y="506" width="18" height="8" fill="#00166a"/><rect x="359" y="498" width="18" height="8" fill="#00255b"/><rect x="359" y="490" width="18" height="8" fill="#002f51"/><rect x="359" y="474" width="18" height="16" fill="#00354b"/><rect x="359" y="466" width="18" height="8" fill="#002f51"/><rect x="359" y="458" width="18" height="8" fill="#00255b"/><rect x="359" y="450" width="18" height="8" fill="#001c64"/><rect x="359" y="442" width="18" height="8" fill="#00116f"/><rect x="359" y="434" width="18" height="8" fill="#000779"/><rect x="359" y="426" width="18" height="8" fill="#01007f"/><rect x="359" y="418" width="18" height="8" fill="#05007b"/><rect x="359" y="410" width="18" height="8" fill="#090077"/><rect x="359" y="402" width="18" height="8" fill="#0c0074"/><rect x="359" y="394" width="18" height="8" fill="#0f0071"/><rect x="359" y="386" width="18" height="8" fill="#12006e"/><rect x="359" y="378" width="18" height="8" fill="#16006a"/><rect x="359" y="370" width="18" height="8" fill="#1a0066"/><rect x="359" y="362" width="18" height="8" fill="#1f0061"/><rect x="359" y="354" width="18" height="8" fill="#26005a"/><rect x="359" y="346" width="18" height="8" fill="#2a0056"/><rect x="359" y="338" width="18" height="8" fill="#35004b"/><rect x="359" y="330" width="18" height="8" fill="#400040"/><rect x="359" y="322" width="18" height="8" fill="#3c003c"/><rect x="359" y="314" width="18" height="8" fill="#340034"/><rect x="359" y="306" width="18" height="8" fill="#2b002b"/><rect x="359" y="298" width="18" height="8" fill="#220022"/><rect x="359" y="290" width="18" height="8" fill="#1c001c"/><rect x="359" y="282" width="18" height="8" fill="#160016"/><rect x="359" y="274" width="18" height="8" fill="#130013"/><rect x="359" y="266" width="18" height="8" fill="#0f000f"/><rect x="359" y="258" width="18" height="8" fill="#0d000d"/><rect x="359" y="250" width="18" height="8" fill="#0b000b"/><rect x="359" y="242" width="18" height="8" fill="#090009"/><rect x="359" y="218" width="18" height="24" fill="#070007"/><rect x="359" y="202" width="18" height="16" fill="#060006"/><rect x="359" y="186" width="18" height="16" fill="#050005"/><rect x="359" y="170" width="18" height="16" fill="#040004"/>
<rect x="377" y="690" width="18" height="128" fill="#020002"/><rect x="377" y="682" width="18" height="8" fill="#220022"/><rect x="377" y="674" width="18" height="8" fill="#250025"/><rect x="377" y="666" width="18" height="8" fill="#290029"/><rect x="377" y="658" width="18" height="8" fill="#2f002f"/><rect x="377" y="650" width="18" height="8" fill="#340034"/><rect x="377" y="642" width="18" height="8" fill="#390039"/><rect x="377" y="634" width="18" height="8" fill="#3e003e"/><rect x="377" y="626" width="18" height="8" fill="#400040"/><rect x="377" y="618" width="18" height="8" fill="#3b0045"/><rect x="377" y="610" width="18" height="8" fill="#35004b"/><rect x="377" y="602" width="18" height="8" fill="#2b0055"/><rect x="377" y="594" width="18" height="8" fill="#26005a"/><rect x="377" y="586" width="18" height="8" fill="#23005d"/><rect x="377" y="578" width="18" height="8" fill="#1f0061"/><rect x="377" y="570" width="18" height="8" fill="#1a0066"/><rect x="377" y="562" width="18" height="8" fill="#170069"/><rect x="377" y="554" width="18" height="8" fill="#15006b"/><rect x="377" y="546" width="18" height="8" fill="#11006f"/><rect x="377" y="538" width="18" height="8" fill="#0f0071"/><rect x="377" y="530" width="18" height="8" fill="#0a0076"/><rect x="377" y="522" width="18" height="8" fill="#06007a"/><rect x="377" y="514" width="18" height="8" fill="#000080"/><rect x="377" y="506" width="18" height="8" fill="#000d73"/><rect x="377" y="498" width="18" height="8" fill="#001c64"/><rect x="377" y="466" width="18" height="32" fill="#00255b"/><rect x="377" y="458" width="18" height="8" fill="#002060"/><rect x="377" y="450" width="18" height="8" fill="#00166a"/><rect x="377" y="442" width="18" height="8" fill="#000878"/><rect x="377" y="434" width="18" height="8" fill="#000080"/><rect x="377" y="426" width="18" height="8" fill="#05007b"/><rect x="377" y="418" width="18" height="8" fill="#090077"/><rect x="377" y="410" width="18" height="8" fill="#0d0073"/><rect x="377" y="402" width="18" height="8" fill="#11006f"/><rect x="377" y="394" width="18" height="8" fill="#14006c"/><rect x="377" y="386" width="18" height="8" fill="#190067"/><rect x="377" y="378" width="18" height="8" fill="#1d0063"/><rect x="377" y="370" width="18" height="8" fill="#23005d"/><rect x="377" y="362" width="18" height="8" fill="#280058"/><rect x="377" y="354" width="18" height="8" fill="#2e0052"/><rect x="377" y="346" width="18" height="8" fill="#390047"/><rect x="377" y="338" width="18" height="8" fill="#400040"/><rect x="377" y="330" width="18" height="8" fill="#3c003c"/><rect x="377" y="322" width="18" height="8" fill="#320032"/><rect x="377" y="314" width="18" height="8" fill="#290029"/><rect x="377" y="306" width="18" height="8" fill="#220022"/><rect x="377" y="298" width="18" height="8" fill="#1a001a"/><rect x="377" y="290" width="18" height="8" fill="#160016"/><rect x="377" y="282" width="18" height="8" fill="#130013"/><rect x="377" y="274" width="18" height="8" fill="#0f000f"/><rect x="377" y="258" width="18" height="16" fill="#0b000b"/><rect x="377" y="250" width="18" height="8" fill="#0a000a"/><rect x="377" y="234" width="18" height="16" fill="#090009"/><rect x="377" y="226" width="18" height="8" fill="#080008"/><rect x="377" y="210" width="18" height="16" fill="#070007"/><rect x="377" y="194" width="18" height="16" fill="#060006"/><rect x="377" y="186" width="18" height="8" fill="#050005"/><rect x="377" y="170" width="18" height="16" fill="#040004"/>
<rect x="395" y="698" width="18" height="120" fill="#020002"/><rect x="395" y="690" width="18" height="8" fill="#1a001a"/><rect x="395" y="682" width="18" height="8" fill="#1d001d"/><rect x="395" y="674" width="18" height="8" fill="#1f001f"/><rect x="395" y="666" width="18" height="8" fill="#220022"/><rect x="395" y="658" width="18" height="8" fill="#250025"/><rect x="395" y="650" width="18" height="8" fill="#290029"/><rect x="395" y="642" width="18" height="8" fill="#2f002f"/><rect x="395" y="634" width="18" height="8" fill="#340034"/><rect x="395" y="626" width="18" height="8" fill="#3a003a"/><rect x="395" y="618" width="18" height="8" fill="#3f003f"/><rect x="395" y="610" width="18" height="8" fill="#3e0042"/><rect x="395" y="602" width="18" height="8" fill="#3b0045"/><rect x="395" y="594" width="18" height="8" fill="#35004b"/><rect x="395" y="586" width="18" height="8" fill="#2f0051"/><rect x="395" y="578" width="18" height="8" fill="#290057"/><rect x="395" y="570" width="18" height="8" fill="#23005d"/><rect x="395" y="562" width="18" height="8" fill="#1f0061"/><rect x="395" y="554" width="18" height="8" fill="#1b0065"/><rect x="395" y="546" width="18" height="8" fill="#170069"/><rect x="395" y="538" width="18" height="8" fill="#14006c"/><rect x="395" y="530" width="18" height="8" fill="#100070"/><rect x="395" y="522" width="18" height="8" fill="#0c0074"/><rect x="395" y="514" width="18" height="8" fill="#070079"/><rect x="395" y="506" width="18" height="8" fill="#000080"/><rect x="395" y="498" width="18" height="8" fill="#000d73"/><rect x="395" y="458" width="18" height="40" fill="#001f61"/><rect x="395" y="450" width="18" height="8" fill="#00166a"/><rect x="395" y="442" width="18" height="8" fill="#000779"/><rect x="395" y="434" width="18" height="8" fill="#03007d"/><rect x="395" y="426" width="18" height="8" fill="#0a0076"/><rect x="395" y="418" width="18" height="8" fill="#100070"/><rect x="395" y="410" width="18" height="8" fill="#14006c"/><rect x="395" y="402" width="18" height="8" fill="#170069"/><rect x="395" y="394" width="18" height="8" fill="#1b0065"/><rect x="395" y="386" width="18" height="8" fill="#200060"/><rect x="395" y="378" width="18" height="8" fill="#25005b"/><rect x="395" y="370" width="18" height="8" fill="#2a0056"/><rect x="395" y="362" width="18" height="8" fill="#35004b"/><rect x="395" y="354" width="18" height="8" fill="#3d0043"/><rect x="395" y="346" width="18" height="8" fill="#3f003f"/><rect x="395" y="338" width="18" height="8" fill="#380038"/><rect x="395" y="330" width="18" height="8" fill="#310031"/><rect x="395" y="322" width="18" height="8" fill="#290029"/><rect x="395" y="314" width="18" height="8" fill="#220022"/><rect x="395" y="306" width="18" height="8" fill="#1c001c"/><rect x="395" y="298" width="18" height="8" fill="#160016"/><rect x="395" y="290" width="18" height="8" fill="#130013"/><rect x="395" y="282" width="18" height="8" fill="#0f000f"/><rect x="395" y="274" width="18" height="8" fill="#0b000b"/><rect x="395" y="242" width="18" height="32" fill="#070007"/><rect x="395" y="218" width="18" height="24" fill="#060006"/><rect x="395" y="194" width="18" height="24" fill="#050005"/><rect x="395" y="170" width="18" height="24" fill="#040004"/>
<rect x="413" y="698" width="18" height="120" fill="#020002"/><rect x="413" y="690" width="18" height="8" fill="#1a001a"/><rect x="413" y="682" width="18" height="8" fill="#1b001b"/><rect x="413" y="674" width="18" height="8" fill="#1d001d"/><rect x="413" y="666" width="18" height="8" fill="#1e001e"/><rect x="413" y="658" width="18" height="8" fill="#200020"/><rect x="413" y="650" width="18" height="8" fill="#220022"/><rect x="413" y="642" width="18" height="8" fill="#250025"/><rect x="413" y="634" width="18" height="8" fill="#290029"/><rect x="413" y="626" width="18" height="8" fill="#2f002f"/><rect x="413" y="618" width="18" height="8" fill="#340034"/><rect x="413" y="610" width="18" height="8" fill="#350035"/><rect x="413" y="602" width="18" height="8" fill="#360036"/><rect x="413" y="594" width="18" height="8" fill="#3c003c"/><rect x="413" y="586" width="18" height="8" fill="#3f0041"/><rect x="413" y="578" width="18" height="8" fill="#390047"/><rect x="413" y="570" width="18" height="8" fill="#32004e"/><rect x="413" y="562" width="18" height="8" fill="#2c0054"/><rect x="413" y="554" width="18" height="8" fill="#26005a"/><rect x="413" y="546" width="18" height="8" fill="#21005f"/><rect x="413" y="538" width="18" height="8" fill="#1c0064"/><rect x="413" y="530" width="18" height="8" fill="#170069"/><rect x="413" y="522" width="18" height="8" fill="#12006e"/><rect x="413" y="514" width="18" height="8" fill="#0c0074"/><rect x="413" y="506" width="18" height="8" fill="#06007a"/><rect x="413" y="498" width="18" height="8" fill="#01007f"/><rect x="413" y="490" width="18" height="8" fill="#000779"/><rect x="413" y="458" width="18" height="32" fill="#00136d"/><rect x="413" y="450" width="18" height="8" fill="#000d73"/><rect x="413" y="442" width="18" height="8" fill="#01007f"/><rect x="413" y="434" width="18" height="8" fill="#06007a"/><rect x="413" y="426" width="18" height="8" fill="#0f0071"/><rect x="413" y="418" width="18" height="8" fill="#170069"/><rect x="413" y="410" width="18" height="8" fill="#1d0063"/><rect x="413" y="402" width="18" height="8" fill="#21005f"/><rect x="413" y="394" width="18" height="8" fill="#26005a"/><rect x="413" y="386" width="18" height="8" fill="#2c0054"/><rect x="413" y="378" width="18" height="8" fill="#33004d"/><rect x="413" y="370" width="18" height="8" fill="#390047"/><rect x="413" y="362" width="18" height="8" fill="#400040"/><rect x="413" y="354" width="18" height="8" fill="#3a003a"/><rect x="413" y="346" width="18" height="8" fill="#340034"/><rect x="413" y="338" width="18" height="8" fill="#2d002d"/><rect x="413" y="330" width="18" height="8" fill="#250025"/><rect x="413" y="322" width="18" height="8" fill="#200020"/><rect x="413" y="314" width="18" height="8" fill="#1a001a"/><rect x="413" y="306" width="18" height="8" fill="#160016"/><rect x="413" y="298" width="18" height="8" fill="#130013"/><rect x="413" y="290" width="18" height="8" fill="#0f000f"/><rect x="413" y="274" width="18" height="16" fill="#0b000b"/><rect x="413" y="258" width="18" height="16" fill="#0a000a"/><rect x="413" y="242" width="18" height="16" fill="#090009"/><rect x="413" y="234" width="18" height="8" fill="#080008"/><rect x="413" y="218" width="18" height="16" fill="#070007"/><rect x="413" y="202" width="18" height="16" fill="#060006"/><rect x="413" y="186" width="18" height="16" fill="#050005"/><rect x="413" y="170" width="18" height="16" fill="#040004"/>
<rect x="431" y="706" width="18" height="112" fill="#020002"/><rect x="431" y="698" width="18" height="8" fill="#130013"/><rect x="431" y="690" width="18" height="8" fill="#140014"/><rect x="431" y="682" width="18" height="8" fill="#150015"/><rect x="431" y="674" width="18" height="8" fill="#160016"/><rect x="431" y="666" width="18" height="8" fill="#180018"/><rect x="431" y="658" width="18" height="8" fill="#190019"/><rect x="431" y="650" width="18" height="8" fill="#1a001a"/><rect x="431" y="642" width="18" height="8" fill="#1d001d"/><rect x="431" y="634" width="18" height="8" fill="#1f001f"/><rect x="431" y="626" width="18" height="8" fill="#220022"/><rect x="431" y="618" width="18" height="8" fill="#250025"/><rect x="431" y="610" width="18" height="8" fill="#280028"/><rect x="431" y="602" width="18" height="8" fill="#2b002b"/><rect x="431" y="594" width="18" height="8" fill="#320032"/><rect x="431" y="586" width="18" height="8" fill="#390039"/><rect x="431" y="578" width="18" height="8" fill="#400040"/><rect x="431" y="570" width="18" height="8" fill="#3d0043"/><rect x="431" y="562" width="18" height="8" fill="#32004e"/><rect x="431" y="554" width="18" height="8" fill="#2c0054"/><rect x="431" y="546" width="18" height="8" fill="#26005a"/><rect x="431" y="538" width="18" height="8" fill="#21005f"/><rect x="431" y="530" width="18" height="8" fill="#1c0064"/><rect x="431" y="522" width="18" height="8" fill="#170069"/><rect x="431" y="514" width="18" height="8" fill="#12006e"/><rect x="431" y="506" width="18" height="8" fill="#0c0074"/><rect x="431" y="498" width="18" height="8" fill="#06007a"/><rect x="431" y="490" width="18" height="8" fill="#000080"/><rect x="431" y="458" width="18" height="32" fill="#000779"/><rect x="431" y="450" width="18" height="8" fill="#00017f"/><rect x="431" y="442" width="18" height="8" fill="#090077"/><rect x="431" y="434" width="18" height="8" fill="#11006f"/><rect x="431" y="426" width="18" height="8" fill="#190067"/><rect x="431" y="418" width="18" height="8" fill="#200060"/><rect x="431" y="410" width="18" height="8" fill="#26005a"/><rect x="431" y="402" width="18" height="8" fill="#2c0054"/><rect x="431" y="394" width="18" height="8" fill="#34004c"/><rect x="431" y="386" width="18" height="8" fill="#3b0045"/><rect x="431" y="378" width="18" height="8" fill="#3f003f"/><rect x="431" y="370" width="18" height="8" fill="#380038"/><rect x="431" y="362" width="18" height="8" fill="#320032"/><rect x="431" y="354" width="18" height="8" fill="#2b002b"/><rect x="431" y="346" width="18" height="8" fill="#240024"/><rect x="431" y="338" width="18" height="8" fill="#1d001d"/><rect x="431" y="330" width="18" height="8" fill="#160016"/><rect x="431" y="322" width="18" height="8" fill="#120012"/><rect x="431" y="314" width="18" height="8" fill="#0d000d"/><rect x="431" y="306" width="18" height="8" fill="#0b000b"/><rect x="431" y="298" width="18" height="8" fill="#090009"/><rect x="431" y="290" width="18" height="8" fill="#070007"/><rect x="431" y="266" width="18" height="24" fill="#060006"/><rect x="431" y="210" width="18" height="56" fill="#050005"/><rect x="431" y="170" width="18" height="40" fill="#040004"/>
<rect x="449" y="714" width="18" height="104" fill="#020002"/><rect x="449" y="706" width="18" height="8" fill="#0d000d"/><rect x="449" y="698" width="18" height="8" fill="#0e000e"/><rect x="449" y="690" width="18" height="8" fill="#0f000f"/><rect x="449" y="682" width="18" height="8" fill="#100010"/><rect x="449" y="674" width="18" height="8" fill="#120012"/><rect x="449" y="666" width="18" height="8" fill="#130013"/><rect x="449" y="658" width="18" height="8" fill="#140014"/><rect x="449" y="650" width="18" height="8" fill="#150015"/><rect x="449" y="642" width="18" height="8" fill="#170017"/><rect x="449" y="634" width="18" height="8" fill="#180018"/><rect x="449" y="626" width="18" height="8" fill="#1a001a"/><rect x="449" y="618" width="18" height="8" fill="#1c001c"/><rect x="449" y="610" width="18" height="8" fill="#1f001f"/><rect x="449" y="602" width="18" height="8" fill="#220022"/><rect x="449" y="594" width="18" height="8" fill="#270027"/><rect x="449" y="586" width="18" height="8" fill="#2f002f"/><rect x="449" y="578" width="18" height="8" fill="#3c003c"/><rect x="449" y="570" width="18" height="8" fill="#3f0041"/><rect x="449" y="562" width="18" height="8" fill="#33004d"/><rect x="449" y="554" width="18" height="8" fill="#2e0052"/><rect x="449" y="546" width="18" height="8" fill="#2a0056"/><rect x="449" y="538" width="18" height="8" fill="#26005a"/><rect x="449" y="530" width="18" height="8" fill="#21005f"/><rect x="449" y="522" width="18" height="8" fill="#1c0064"/><rect x="449" y="514" width="18" height="8" fill="#170069"/><rect x="449" y="506" width="18" height="8" fill="#100070"/><rect x="449" y="458" width="18" height="48" fill="#0c0074"/><rect x="449" y="450" width="18" height="8" fill="#100070"/><rect x="449" y="442" width="18" height="8" fill="#170069"/><rect x="449" y="434" width="18" height="8" fill="#21005f"/><rect x="449" y="426" width="18" height="8" fill="#2a0056"/><rect x="449" y="418" width="18" height="8" fill="#32004e"/><rect x="449" y="410" width="18" height="8" fill="#380048"/><rect x="449" y="402" width="18" height="8" fill="#3d0043"/><rect x="449" y="394" width="18" height="8" fill="#3f003f"/><rect x="449" y="386" width="18" height="8" fill="#380038"/><rect x="449" y="378" width="18" height="8" fill="#320032"/><rect x="449" y="370" width="18" height="8" fill="#2b002b"/><rect x="449" y="362" width="18" height="8" fill="#240024"/><rect x="449" y="354" width="18" height="8" fill="#1d001d"/><rect x="449" y="346" width="18" height="8" fill="#160016"/><rect x="449" y="338" width="18" height="8" fill="#120012"/><rect x="449" y="330" width="18" height="8" fill="#0d000d"/><rect x="449" y="322" width="18" height="8" fill="#0a000a"/><rect x="449" y="314" width="18" height="8" fill="#070007"/><rect x="449" y="306" width="18" height="8" fill="#060006"/><rect x="449" y="170" width="18" height="136" fill="#040004"/>
<rect x="467" y="730" width="18" height="88" fill="#020002"/><rect x="467" y="722" width="18" height="8" fill="#070007"/><rect x="467" y="714" width="18" height="8" fill="#080008"/><rect x="467" y="706" width="18" height="8" fill="#090009"/><rect x="467" y="690" width="18" height="16" fill="#0a000a"/><rect x="467" y="682" width="18" height="8" fill="#0b000b"/><rect x="467" y="674" width="18" height="8" fill="#0d000d"/><rect x="467" y="666" width="18" height="8" fill="#0e000e"/><rect x="467" y="658" width="18" height="8" fill="#100010"/><rect x="467" y="650" width="18" height="8" fill="#110011"/><rect x="467" y="642" width="18" height="8" fill="#130013"/><rect x="467" y="634" width="18" height="8" fill="#160016"/><rect x="467" y="626" width="18" height="8" fill="#180018"/><rect x="467" y="618" width="18" height="8" fill="#1a001a"/><rect x="467" y="610" width="18" height="8" fill="#200020"/><rect x="467" y="602" width="18" height="8" fill="#250025"/><rect x="467" y="594" width="18" height="8" fill="#2d002d"/><rect x="467" y="586" width="18" height="8" fill="#380038"/><rect x="467" y="578" width="18" height="8" fill="#400040"/><rect x="467" y="570" width="18" height="8" fill="#2e0052"/><rect x="467" y="562" width="18" height="8" fill="#24005c"/><rect x="467" y="554" width="18" height="8" fill="#22005e"/><rect x="467" y="546" width="18" height="8" fill="#21005f"/><rect x="467" y="538" width="18" height="8" fill="#1f0061"/><rect x="467" y="530" width="18" height="8" fill="#1e0062"/><rect x="467" y="522" width="18" height="8" fill="#1d0063"/><rect x="467" y="514" width="18" height="8" fill="#1c0064"/><rect x="467" y="466" width="18" height="48" fill="#1b0065"/><rect x="467" y="458" width="18" height="8" fill="#1e0062"/><rect x="467" y="450" width="18" height="8" fill="#200060"/><rect x="467" y="442" width="18" height="8" fill="#270059"/><rect x="467" y="434" width="18" height="8" fill="#2e0052"/><rect x="467" y="426" width="18" height="8" fill="#34004c"/><rect x="467" y="418" width="18" height="8" fill="#3b0045"/><rect x="467" y="410" width="18" height="8" fill="#3e0042"/><rect x="467" y="402" width="18" height="8" fill="#3f003f"/><rect x="467" y="394" width="18" height="8" fill="#3c003c"/><rect x="467" y="386" width="18" height="8" fill="#380038"/><rect x="467" y="378" width="18" height="8" fill="#310031"/><rect x="467" y="370" width="18" height="8" fill="#290029"/><rect x="467" y="362" width="18" height="8" fill="#220022"/><rect x="467" y="354" width="18" height="8" fill="#1c001c"/><rect x="467" y="346" width="18" height="8" fill="#160016"/><rect x="467" y="338" width="18" height="8" fill="#130013"/><rect x="467" y="330" width="18" height="8" fill="#0f000f"/><rect x="467" y="322" width="18" height="8" fill="#0b000b"/><rect x="467" y="282" width="18" height="40" fill="#070007"/><rect x="467" y="242" width="18" height="40" fill="#060006"/><rect x="467" y="202" width="18" height="40" fill="#050005"/><rect x="467" y="170" width="18" height="32" fill="#040004"/>
<rect x="485" y="738" width="18" height="80" fill="#020002"/><rect x="485" y="730" width="18" height="8" fill="#060006"/><rect x="485" y="714" width="18" height="16" fill="#070007"/><rect x="485" y="698" width="18" height="16" fill="#080008"/><rect x="485" y="690" width="18" height="8" fill="#090009"/><rect x="485" y="682" width="18" height="8" fill="#0a000a"/><rect x="485" y="674" width="18" height="8" fill="#0b000b"/><rect x="485" y="666" width="18" height="8" fill="#0c000c"/><rect x="485" y="658" width="18" height="8" fill="#0e000e"/><rect x="485" y="650" width="18" height="8" fill="#0f000f"/><rect x="485" y="642" width="18" height="8" fill="#110011"/><rect x="485" y="634" width="18" height="8" fill="#130013"/><rect x="485" y="626" width="18" height="8" fill="#160016"/><rect x="485" y="618" width="18" height="8" fill="#180018"/><rect x="485" y="610" width="18" height="8" fill="#1f001f"/><rect x="485" y="602" width="18" height="8" fill="#250025"/><rect x="485" y="594" width="18" height="8" fill="#2d002d"/><rect x="485" y="586" width="18" height="8" fill="#340034"/><rect x="485" y="578" width="18" height="8" fill="#3e003e"/><rect x="485" y="570" width="18" height="8" fill="#32004e"/><rect x="485" y="562" width="18" height="8" fill="#2a0056"/><rect x="485" y="546" width="18" height="16" fill="#290057"/><rect x="485" y="482" width="18" height="64" fill="#280058"/><rect x="485" y="474" width="18" height="8" fill="#2a0056"/><rect x="485" y="466" width="18" height="8" fill="#2c0054"/><rect x="485" y="458" width="18" height="8" fill="#300050"/><rect x="485" y="450" width="18" height="8" fill="#35004b"/><rect x="485" y="442" width="18" height="8" fill="#3b0045"/><rect x="485" y="434" width="18" height="8" fill="#3f003f"/><rect x="485" y="426" width="18" height="8" fill="#3d003d"/><rect x="485" y="418" width="18" height="8" fill="#3c003c"/><rect x="485" y="410" width="18" height="8" fill="#380038"/><rect x="485" y="402" width="18" height="8" fill="#340034"/><rect x="485" y="394" width="18" height="8" fill="#2f002f"/><rect x="485" y="386" width="18" height="8" fill="#290029"/><rect x="485" y="378" width="18" height="8" fill="#220022"/><rect x="485" y="370" width="18" height="8" fill="#1c001c"/><rect x="485" y="362" width="18" height="8" fill="#160016"/><rect x="485" y="354" width="18" height="8" fill="#130013"/><rect x="485" y="346" width="18" height="8" fill="#0f000f"/><rect x="485" y="338" width="18" height="8" fill="#0b000b"/><rect x="485" y="290" width="18" height="48" fill="#070007"/><rect x="485" y="250" width="18" height="40" fill="#060006"/><rect x="485" y="210" width="18" height="40" fill="#050005"/><rect x="485" y="170" width="18" height="40" fill="#040004"/>
<rect x="503" y="738" width="18" height="80" fill="#020002"/><rect x="503" y="730" width="18" height="8" fill="#060006"/><rect x="503" y="714" width="18" height="16" fill="#070007"/><rect x="503" y="698" width="18" height="16" fill="#080008"/><rect x="503" y="690" width="18" height="8" fill="#090009"/><rect x="503" y="682" width="18" height="8" fill="#0a000a"/><rect x="503" y="674" width="18" height="8" fill="#0b000b"/><rect x="503" y="666" width="18" height="8" fill="#0c000c"/><rect x="503" y="658" width="18" height="8" fill="#0e000e"/><rect x="503" y="650" width="18" height="8" fill="#0f000f"/><rect x="503" y="642" width="18" height="8" fill="#110011"/><rect x="503" y="634" width="18" height="8" fill="#130013"/><rect x="503" y="626" width="18" height="8" fill="#160016"/><rect x="503" y="618" width="18" height="8" fill="#180018"/><rect x="503" y="610" width="18" height="8" fill="#1f001f"/><rect x="503" y="602" width="18" height="8" fill="#250025"/><rect x="503" y="594" width="18" height="8" fill="#2d002d"/><rect x="503" y="586" width="18" height="8" fill="#340034"/><rect x="503" y="578" width="18" height="8" fill="#3c003c"/><rect x="503" y="570" width="18" height="8" fill="#390047"/><rect x="503" y="514" width="18" height="56" fill="#370049"/><rect x="503" y="498" width="18" height="16" fill="#380048"/><rect x="503" y="490" width="18" height="8" fill="#3b0045"/><rect x="503" y="482" width="18" height="8" fill="#3d0043"/><rect x="503" y="474" width="18" height="8" fill="#3f0041"/><rect x="503" y="466" width="18" height="8" fill="#3f003f"/><rect x="503" y="458" width="18" height="8" fill="#3e003e"/><rect x="503" y="450" width="18" height="8" fill="#3c003c"/><rect x="503" y="442" width="18" height="8" fill="#380038"/><rect x="503" y="434" width="18" height="8" fill="#340034"/><rect x="503" y="426" width="18" height="8" fill="#310031"/><rect x="503" y="418" width="18" height="8" fill="#2d002d"/><rect x="503" y="410" width="18" height="8" fill="#290029"/><rect x="503" y="402" width="18" height="8" fill="#250025"/><rect x="503" y="394" width="18" height="8" fill="#220022"/><rect x="503" y="386" width="18" height="8" fill="#1e001e"/><rect x="503" y="378" width="18" height="8" fill="#160016"/><rect x="503" y="370" width="18" height="8" fill="#130013"/><rect x="503" y="362" width="18" height="8" fill="#0f000f"/><rect x="503" y="354" width="18" height="8" fill="#0b000b"/><rect x="503" y="306" width="18" height="48" fill="#070007"/><rect x="503" y="258" width="18" height="48" fill="#060006"/><rect x="503" y="210" width="18" height="48" fill="#050005"/><rect x="503" y="170" width="18" height="40" fill="#040004"/>
<rect x="521" y="770" width="18" height="48" fill="#020002"/><rect x="521" y="754" width="18" height="16" fill="#0c000c"/><rect x="521" y="738" width="18" height="16" fill="#0d000d"/><rect x="521" y="722" width="18" height="16" fill="#0e000e"/><rect x="521" y="714" width="18" height="8" fill="#0f000f"/><rect x="521" y="706" width="18" height="8" fill="#100010"/><rect x="521" y="698" width="18" height="8" fill="#110011"/><rect x="521" y="690" width="18" height="8" fill="#120012"/><rect x="521" y="682" width="18" height="8" fill="#130013"/><rect x="521" y="674" width="18" height="8" fill="#140014"/><rect x="521" y="666" width="18" height="8" fill="#160016"/><rect x="521" y="658" width="18" height="8" fill="#170017"/><rect x="521" y="650" width="18" height="8" fill="#190019"/><rect x="521" y="642" width="18" height="8" fill="#1b001b"/><rect x="521" y="634" width="18" height="8" fill="#1e001e"/><rect x="521" y="626" width="18" height="8" fill="#210021"/><rect x="521" y="618" width="18" height="8" fill="#240024"/><rect x="521" y="610" width="18" height="8" fill="#250025"/><rect x="521" y="602" width="18" height="8" fill="#2d002d"/><rect x="521" y="594" width="18" height="8" fill="#320032"/><rect x="521" y="586" width="18" height="8" fill="#380038"/><rect x="521" y="578" width="18" height="8" fill="#3f003f"/><rect x="521" y="554" width="18" height="24" fill="#3f0041"/><rect x="521" y="522" width="18" height="32" fill="#400040"/><rect x="521" y="514" width="18" height="8" fill="#3f003f"/><rect x="521" y="506" width="18" height="8" fill="#3e003e"/><rect x="521" y="498" width="18" height="8" fill="#3c003c"/><rect x="521" y="490" width="18" height="8" fill="#390039"/><rect x="521" y="482" width="18" height="8" fill="#370037"/><rect x="521" y="474" width="18" height="8" fill="#340034"/><rect x="521" y="466" width="18" height="8" fill="#310031"/><rect x="521" y="458" width="18" height="8" fill="#2d002d"/><rect x="521" y="450" width="18" height="8" fill="#290029"/><rect x="521" y="442" width="18" height="8" fill="#270027"/><rect x="521" y="434" width="18" height="8" fill="#250025"/><rect x="521" y="426" width="18" height="8" fill="#220022"/><rect x="521" y="418" width="18" height="8" fill="#1e001e"/><rect x="521" y="410" width="18" height="8" fill="#1a001a"/><rect x="521" y="402" width="18" height="8" fill="#160016"/><rect x="521" y="394" width="18" height="8" fill="#150015"/><rect x="521" y="386" width="18" height="8" fill="#130013"/><rect x="521" y="378" width="18" height="8" fill="#0f000f"/><rect x="521" y="370" width="18" height="8" fill="#0b000b"/><rect x="521" y="314" width="18" height="56" fill="#070007"/><rect x="521" y="266" width="18" height="48" fill="#060006"/><rect x="521" y="210" width="18" height="56" fill="#050005"/><rect x="521" y="170" width="18" height="40" fill="#040004"/>
<rect x="539" y="786" width="18" height="32" fill="#020002"/><rect x="539" y="762" width="18" height="24" fill="#150015"/><rect x="539" y="730" width="18" height="32" fill="#160016"/><rect x="539" y="714" width="18" height="16" fill="#170017"/><rect x="539" y="698" width="18" height="16" fill="#180018"/><rect x="539" y="682" width="18" height="16" fill="#190019"/><rect x="539" y="674" width="18" height="8" fill="#1a001a"/><rect x="539" y="666" width="18" height="8" fill="#1b001b"/><rect x="539" y="650" width="18" height="16" fill="#1c001c"/><rect x="539" y="642" width="18" height="8" fill="#1e001e"/><rect x="539" y="634" width="18" height="8" fill="#1f001f"/><rect x="539" y="626" width="18" height="8" fill="#200020"/><rect x="539" y="618" width="18" height="8" fill="#220022"/><rect x="539" y="610" width="18" height="8" fill="#270027"/><rect x="539" y="602" width="18" height="8" fill="#2d002d"/><rect x="539" y="594" width="18" height="8" fill="#340034"/><rect x="539" y="586" width="18" height="8" fill="#350035"/><rect x="539" y="578" width="18" height="8" fill="#360036"/><rect x="539" y="570" width="18" height="8" fill="#370037"/><rect x="539" y="562" width="18" height="8" fill="#380038"/><rect x="539" y="554" width="18" height="8" fill="#390039"/><rect x="539" y="546" width="18" height="8" fill="#3b003b"/><rect x="539" y="538" width="18" height="8" fill="#3c003c"/><rect x="539" y="530" width="18" height="8" fill="#3e003e"/><rect x="539" y="498" width="18" height="32" fill="#380038"/><rect x="539" y="490" width="18" height="8" fill="#340034"/><rect x="539" y="482" width="18" height="8" fill="#310031"/><rect x="539" y="474" width="18" height="8" fill="#2d002d"/><rect x="539" y="466" width="18" height="8" fill="#290029"/><rect x="539" y="458" width="18" height="8" fill="#250025"/><rect x="539" y="450" width="18" height="8" fill="#220022"/><rect x="539" y="442" width="18" height="8" fill="#1e001e"/><rect x="539" y="434" width="18" height="8" fill="#1a001a"/><rect x="539" y="426" width="18" height="8" fill="#160016"/><rect x="539" y="418" width="18" height="8" fill="#130013"/><rect x="539" y="410" width="18" height="8" fill="#0f000f"/><rect x="539" y="402" width="18" height="8" fill="#0b000b"/><rect x="539" y="394" width="18" height="8" fill="#090009"/><rect x="539" y="330" width="18" height="64" fill="#070007"/><rect x="539" y="274" width="18" height="56" fill="#060006"/><rect x="539" y="218" width="18" height="56" fill="#050005"/><rect x="539" y="170" width="18" height="48" fill="#040004"/>
<rect x="557" y="802" width="18" height="16" fill="#020002"/><rect x="557" y="770" width="18" height="32" fill="#240024"/><rect x="557" y="730" width="18" height="40" fill="#250025"/><rect x="557" y="706" width="18" height="24" fill="#260026"/><rect x="557" y="690" width="18" height="16" fill="#270027"/><rect x="557" y="666" width="18" height="24" fill="#280028"/><rect x="557" y="650" width="18" height="16" fill="#290029"/><rect x="557" y="642" width="18" height="8" fill="#2a002a"/><rect x="557" y="634" width="18" height="8" fill="#2b002b"/><rect x="557" y="626" width="18" height="8" fill="#2c002c"/><rect x="557" y="618" width="18" height="8" fill="#2d002d"/><rect x="557" y="610" width="18" height="8" fill="#320032"/><rect x="557" y="514" width="18" height="96" fill="#380038"/><rect x="557" y="506" width="18" height="8" fill="#340034"/><rect x="557" y="498" width="18" height="8" fill="#310031"/><rect x="557" y="490" width="18" height="8" fill="#2d002d"/><rect x="557" y="482" width="18" height="8" fill="#290029"/><rect x="557" y="474" width="18" height="8" fill="#250025"/><rect x="557" y="466" width="18" height="8" fill="#220022"/><rect x="557" y="458" width="18" height="8" fill="#1e001e"/><rect x="557" y="450" width="18" height="8" fill="#1a001a"/><rect x="557" y="442" width="18" height="8" fill="#160016"/><rect x="557" y="434" width="18" height="8" fill="#130013"/><rect x="557" y="426" width="18" height="8" fill="#0f000f"/><rect x="557" y="418" width="18" height="8" fill="#0b000b"/><rect x="557" y="410" width="18" height="8" fill="#090009"/><rect x="557" y="402" width="18" height="8" fill="#070007"/><rect x="557" y="394" width="18" height="8" fill="#060006"/><rect x="557" y="170" width="18" height="224" fill="#040004"/>
<rect x="575" y="794" width="18" height="24" fill="#2d002d"/><rect x="575" y="762" width="18" height="32" fill="#2e002e"/><rect x="575" y="722" width="18" height="40" fill="#2f002f"/><rect x="575" y="706" width="18" height="16" fill="#300030"/><rect x="575" y="690" width="18" height="16" fill="#310031"/><rect x="575" y="682" width="18" height="8" fill="#320032"/><rect x="575" y="674" width="18" height="8" fill="#330033"/><rect x="575" y="658" width="18" height="16" fill="#340034"/><rect x="575" y="650" width="18" height="8" fill="#350035"/><rect x="575" y="642" width="18" height="8" fill="#360036"/><rect x="575" y="634" width="18" height="8" fill="#370037"/><rect x="575" y="626" width="18" height="8" fill="#380038"/><rect x="575" y="618" width="18" height="8" fill="#3a003a"/><rect x="575" y="610" width="18" height="8" fill="#3b003b"/><rect x="575" y="602" width="18" height="8" fill="#3d003d"/><rect x="575" y="586" width="18" height="16" fill="#3e003e"/><rect x="575" y="514" width="18" height="72" fill="#3f003f"/><rect x="575" y="506" width="18" height="8" fill="#3e003e"/><rect x="575" y="498" width="18" height="8" fill="#3c003c"/><rect x="575" y="490" width="18" height="8" fill="#390039"/><rect x="575" y="482" width="18" height="8" fill="#360036"/><rect x="575" y="474" width="18" height="8" fill="#320032"/><rect x="575" y="466" width="18" height="8" fill="#2f002f"/><rect x="575" y="458" width="18" height="8" fill="#2b002b"/><rect x="575" y="450" width="18" height="8" fill="#280028"/><rect x="575" y="442" width="18" height="8" fill="#220022"/><rect x="575" y="434" width="18" height="8" fill="#1d001d"/><rect x="575" y="426" width="18" height="8" fill="#180018"/><rect x="575" y="418" width="18" height="8" fill="#130013"/><rect x="575" y="410" width="18" height="8" fill="#110011"/><rect x="575" y="402" width="18" height="8" fill="#0f000f"/><rect x="575" y="394" width="18" height="8" fill="#0d000d"/><rect x="575" y="370" width="18" height="24" fill="#0b000b"/><rect x="575" y="362" width="18" height="8" fill="#0a000a"/><rect x="575" y="354" width="18" height="8" fill="#080008"/><rect x="575" y="346" width="18" height="8" fill="#070007"/><rect x="575" y="338" width="18" height="8" fill="#050005"/><rect x="575" y="170" width="18" height="168" fill="#040004"/>
<rect x="593" y="810" width="18" height="8" fill="#2f002f"/><rect x="593" y="802" width="18" height="8" fill="#300030"/><rect x="593" y="786" width="18" height="16" fill="#310031"/><rect x="593" y="778" width="18" height="8" fill="#320032"/><rect x="593" y="770" width="18" height="8" fill="#330033"/><rect x="593" y="762" width="18" height="8" fill="#340034"/><rect x="593" y="754" width="18" height="8" fill="#350035"/><rect x="593" y="746" width="18" height="8" fill="#360036"/><rect x="593" y="738" width="18" height="8" fill="#370037"/><rect x="593" y="730" width="18" height="8" fill="#380038"/><rect x="593" y="714" width="18" height="16" fill="#390039"/><rect x="593" y="706" width="18" height="8" fill="#3b003b"/><rect x="593" y="698" width="18" height="8" fill="#3c003c"/><rect x="593" y="690" width="18" height="8" fill="#3d003d"/><rect x="593" y="682" width="18" height="8" fill="#3e003e"/><rect x="593" y="674" width="18" height="8" fill="#3f003f"/><rect x="593" y="666" width="18" height="8" fill="#3f0041"/><rect x="593" y="658" width="18" height="8" fill="#3e0042"/><rect x="593" y="650" width="18" height="8" fill="#3d0043"/><rect x="593" y="642" width="18" height="8" fill="#3a0046"/><rect x="593" y="634" width="18" height="8" fill="#380048"/><rect x="593" y="618" width="18" height="16" fill="#35004b"/><rect x="593" y="610" width="18" height="8" fill="#34004c"/><rect x="593" y="602" width="18" height="8" fill="#33004d"/><rect x="593" y="530" width="18" height="72" fill="#300050"/><rect x="593" y="522" width="18" height="8" fill="#31004f"/><rect x="593" y="514" width="18" height="8" fill="#32004e"/><rect x="593" y="506" width="18" height="8" fill="#33004d"/><rect x="593" y="498" width="18" height="8" fill="#35004b"/><rect x="593" y="490" width="18" height="8" fill="#380048"/><rect x="593" y="482" width="18" height="8" fill="#3b0045"/><rect x="593" y="474" width="18" height="8" fill="#3e0042"/><rect x="593" y="466" width="18" height="8" fill="#400040"/><rect x="593" y="458" width="18" height="8" fill="#3f003f"/><rect x="593" y="450" width="18" height="8" fill="#3b003b"/><rect x="593" y="442" width="18" height="8" fill="#380038"/><rect x="593" y="434" width="18" height="8" fill="#340034"/><rect x="593" y="426" width="18" height="8" fill="#310031"/><rect x="593" y="418" width="18" height="8" fill="#2e002e"/><rect x="593" y="410" width="18" height="8" fill="#2c002c"/><rect x="593" y="402" width="18" height="8" fill="#2a002a"/><rect x="593" y="394" width="18" height="8" fill="#280028"/><rect x="593" y="386" width="18" height="8" fill="#250025"/><rect x="593" y="378" width="18" height="8" fill="#220022"/><rect x="593" y="370" width="18" height="8" fill="#1f001f"/><rect x="593" y="362" width="18" height="8" fill="#1e001e"/><rect x="593" y="354" width="18" height="8" fill="#1d001d"/><rect x="593" y="346" width="18" height="8" fill="#1b001b"/><rect x="593" y="338" width="18" height="8" fill="#1a001a"/><rect x="593" y="330" width="18" height="8" fill="#190019"/><rect x="593" y="306" width="18" height="24" fill="#180018"/><rect x="593" y="290" width="18" height="16" fill="#170017"/><rect x="593" y="282" width="18" height="8" fill="#160016"/><rect x="593" y="170" width="18" height="112" fill="#040004"/>
<rect x="611" y="810" width="18" height="8" fill="#340034"/><rect x="611" y="802" width="18" height="8" fill="#350035"/><rect x="611" y="794" width="18" height="8" fill="#360036"/><rect x="611" y="786" width="18" height="8" fill="#370037"/><rect x="611" y="778" width="18" height="8" fill="#380038"/><rect x="611" y="770" width="18" height="8" fill="#390039"/><rect x="611" y="762" width="18" height="8" fill="#3b003b"/><rect x="611" y="754" width="18" height="8" fill="#3c003c"/><rect x="611" y="746" width="18" height="8" fill="#3d003d"/><rect x="611" y="738" width="18" height="8" fill="#3e003e"/><rect x="611" y="730" width="18" height="8" fill="#3f003f"/><rect x="611" y="722" width="18" height="8" fill="#3f0041"/><rect x="611" y="714" width="18" height="8" fill="#3e0042"/><rect x="611" y="706" width="18" height="8" fill="#3c0044"/><rect x="611" y="698" width="18" height="8" fill="#3b0045"/><rect x="611" y="690" width="18" height="8" fill="#380048"/><rect x="611" y="682" width="18" height="8" fill="#35004b"/><rect x="611" y="674" width="18" height="8" fill="#32004e"/><rect x="611" y="666" width="18" height="8" fill="#300050"/><rect x="611" y="658" width="18" height="8" fill="#2e0052"/><rect x="611" y="650" width="18" height="8" fill="#2c0054"/><rect x="611" y="642" width="18" height="8" fill="#2a0056"/><rect x="611" y="634" width="18" height="8" fill="#280058"/><rect x="611" y="626" width="18" height="8" fill="#26005a"/><rect x="611" y="618" width="18" height="8" fill="#23005d"/><rect x="611" y="610" width="18" height="8" fill="#200060"/><rect x="611" y="602" width="18" height="8" fill="#1f0061"/><rect x="611" y="594" width="18" height="8" fill="#1d0063"/><rect x="611" y="586" width="18" height="8" fill="#1c0064"/><rect x="611" y="578" width="18" height="8" fill="#1a0066"/><rect x="611" y="562" width="18" height="16" fill="#190067"/><rect x="611" y="538" width="18" height="24" fill="#180068"/><rect x="611" y="530" width="18" height="8" fill="#170069"/><rect x="611" y="522" width="18" height="8" fill="#190067"/><rect x="611" y="514" width="18" height="8" fill="#1b0065"/><rect x="611" y="506" width="18" height="8" fill="#1d0063"/><rect x="611" y="498" width="18" height="8" fill="#1f0061"/><rect x="611" y="490" width="18" height="8" fill="#23005d"/><rect x="611" y="482" width="18" height="8" fill="#26005a"/><rect x="611" y="474" width="18" height="8" fill="#2a0056"/><rect x="611" y="466" width="18" height="8" fill="#2e0052"/><rect x="611" y="458" width="18" height="8" fill="#32004e"/><rect x="611" y="450" width="18" height="8" fill="#35004b"/><rect x="611" y="442" width="18" height="8" fill="#390047"/><rect x="611" y="434" width="18" height="8" fill="#3d0043"/><rect x="611" y="426" width="18" height="8" fill="#3f0041"/><rect x="611" y="418" width="18" height="8" fill="#3e003e"/><rect x="611" y="410" width="18" height="8" fill="#3b003b"/><rect x="611" y="402" width="18" height="8" fill="#380038"/><rect x="611" y="394" width="18" height="8" fill="#340034"/><rect x="611" y="386" width="18" height="8" fill="#310031"/><rect x="611" y="378" width="18" height="8" fill="#300030"/><rect x="611" y="370" width="18" height="8" fill="#2f002f"/><rect x="611" y="362" width="18" height="8" fill="#2e002e"/><rect x="611" y="354" width="18" height="8" fill="#2d002d"/><rect x="611" y="346" width="18" height="8" fill="#2c002c"/><rect x="611" y="338" width="18" height="8" fill="#2b002b"/><rect x="611" y="330" width="18" height="8" fill="#2a002a"/><rect x="611" y="322" width="18" height="8" fill="#290029"/><rect x="611" y="314" width="18" height="8" fill="#280028"/><rect x="611" y="306" width="18" height="8" fill="#270027"/><rect x="611" y="298" width="18" height="8" fill="#260026"/><rect x="611" y="290" width="18" height="8" fill="#250025"/><rect x="611" y="170" width="18" height="120" fill="#0c000c"/>
<rect x="629" y="810" width="18" height="8" fill="#3f003f"/><rect x="629" y="802" width="18" height="8" fill="#400040"/><rect x="629" y="794" width="18" height="8" fill="#3f0041"/><rect x="629" y="778" width="18" height="16" fill="#3e0042"/><rect x="629" y="770" width="18" height="8" fill="#3d0043"/><rect x="629" y="762" width="18" height="8" fill="#3c0044"/><rect x="629" y="746" width="18" height="16" fill="#3b0045"/><rect x="629" y="738" width="18" height="8" fill="#3a0046"/><rect x="629" y="730" width="18" height="8" fill="#390047"/><rect x="629" y="722" width="18" height="8" fill="#370049"/><rect x="629" y="714" width="18" height="8" fill="#35004b"/><rect x="629" y="706" width="18" height="8" fill="#32004e"/><rect x="629" y="698" width="18" height="8" fill="#2e0052"/><rect x="629" y="690" width="18" height="8" fill="#2a0056"/><rect x="629" y="682" width="18" height="8" fill="#26005a"/><rect x="629" y="674" width="18" height="8" fill="#23005d"/><rect x="629" y="666" width="18" height="8" fill="#1f0061"/><rect x="629" y="658" width="18" height="8" fill="#1b0065"/><rect x="629" y="650" width="18" height="8" fill="#170069"/><rect x="629" y="642" width="18" height="8" fill="#15006b"/><rect x="629" y="634" width="18" height="8" fill="#12006e"/><rect x="629" y="626" width="18" height="8" fill="#0f0071"/><rect x="629" y="618" width="18" height="8" fill="#0c0074"/><rect x="629" y="610" width="18" height="8" fill="#0a0076"/><rect x="629" y="602" width="18" height="8" fill="#090077"/><rect x="629" y="586" width="18" height="16" fill="#000080"/><rect x="629" y="578" width="18" height="8" fill="#00027e"/><rect x="629" y="570" width="18" height="8" fill="#00037d"/><rect x="629" y="562" width="18" height="8" fill="#00047c"/><rect x="629" y="554" width="18" height="8" fill="#00067a"/><rect x="629" y="546" width="18" height="8" fill="#000878"/><rect x="629" y="538" width="18" height="8" fill="#00067a"/><rect x="629" y="530" width="18" height="8" fill="#00047c"/><rect x="629" y="522" width="18" height="8" fill="#01007f"/><rect x="629" y="514" width="18" height="8" fill="#05007b"/><rect x="629" y="506" width="18" height="8" fill="#090077"/><rect x="629" y="498" width="18" height="8" fill="#0c0074"/><rect x="629" y="490" width="18" height="8" fill="#100070"/><rect x="629" y="482" width="18" height="8" fill="#14006c"/><rect x="629" y="474" width="18" height="8" fill="#190067"/><rect x="629" y="466" width="18" height="8" fill="#1f0061"/><rect x="629" y="458" width="18" height="8" fill="#25005b"/><rect x="629" y="450" width="18" height="8" fill="#2a0056"/><rect x="629" y="442" width="18" height="8" fill="#300050"/><rect x="629" y="434" width="18" height="8" fill="#35004b"/><rect x="629" y="426" width="18" height="8" fill="#390047"/><rect x="629" y="418" width="18" height="8" fill="#3d0043"/><rect x="629" y="410" width="18" height="8" fill="#3f0041"/><rect x="629" y="402" width="18" height="8" fill="#3f003f"/><rect x="629" y="394" width="18" height="8" fill="#3c003c"/><rect x="629" y="378" width="18" height="16" fill="#380038"/><rect x="629" y="354" width="18" height="24" fill="#370037"/><rect x="629" y="330" width="18" height="24" fill="#360036"/><rect x="629" y="306" width="18" height="24" fill="#350035"/><rect x="629" y="298" width="18" height="8" fill="#340034"/><rect x="629" y="170" width="18" height="128" fill="#0c000c"/>
<rect x="647" y="810" width="18" height="8" fill="#35004b"/><rect x="647" y="802" width="18" height="8" fill="#34004c"/><rect x="647" y="794" width="18" height="8" fill="#32004e"/><rect x="647" y="786" width="18" height="8" fill="#31004f"/><rect x="647" y="778" width="18" height="8" fill="#2f0051"/><rect x="647" y="770" width="18" height="8" fill="#2e0052"/><rect x="647" y="762" width="18" height="8" fill="#2c0054"/><rect x="647" y="754" width="18" height="8" fill="#2b0055"/><rect x="647" y="746" width="18" height="8" fill="#290057"/><rect x="647" y="738" width="18" height="8" fill="#280058"/><rect x="647" y="730" width="18" height="8" fill="#26005a"/><rect x="647" y="722" width="18" height="8" fill="#25005b"/><rect x="647" y="714" width="18" height="8" fill="#23005d"/><rect x="647" y="706" width="18" height="8" fill="#21005f"/><rect x="647" y="698" width="18" height="8" fill="#1f0061"/><rect x="647" y="690" width="18" height="8" fill="#1b0065"/><rect x="647" y="682" width="18" height="8" fill="#170069"/><rect x="647" y="674" width="18" height="8" fill="#14006c"/><rect x="647" y="666" width="18" height="8" fill="#100070"/><rect x="647" y="658" width="18" height="8" fill="#0c0074"/><rect x="647" y="650" width="18" height="8" fill="#090077"/><rect x="647" y="642" width="18" height="8" fill="#070079"/><rect x="647" y="634" width="18" height="8" fill="#06007a"/><rect x="647" y="618" width="18" height="16" fill="#01007f"/><rect x="647" y="610" width="18" height="8" fill="#000080"/><rect x="647" y="602" width="18" height="8" fill="#00017f"/><rect x="647" y="594" width="18" height="8" fill="#000d73"/><rect x="647" y="578" width="18" height="16" fill="#00166a"/><rect x="647" y="570" width="18" height="8" fill="#001c64"/><rect x="647" y="562" width="18" height="8" fill="#002b55"/><rect x="647" y="530" width="18" height="32" fill="#002f51"/><rect x="647" y="522" width="18" height="8" fill="#00255b"/><rect x="647" y="514" width="18" height="8" fill="#001c64"/><rect x="647" y="506" width="18" height="8" fill="#00047c"/><rect x="647" y="498" width="18" height="8" fill="#00017f"/><rect x="647" y="490" width="18" height="8" fill="#03007d"/><rect x="647" y="482" width="18" height="8" fill="#0a0076"/><rect x="647" y="474" width="18" height="8" fill="#11006f"/><rect x="647" y="466" width="18" height="8" fill="#170069"/><rect x="647" y="458" width="18" height="8" fill="#1d0063"/><rect x="647" y="450" width="18" height="8" fill="#23005d"/><rect x="647" y="442" width="18" height="8" fill="#2a0056"/><rect x="647" y="434" width="18" height="8" fill="#32004e"/><rect x="647" y="426" width="18" height="8" fill="#36004a"/><rect x="647" y="418" width="18" height="8" fill="#3b0045"/><rect x="647" y="410" width="18" height="8" fill="#3d0043"/><rect x="647" y="402" width="18" height="8" fill="#400040"/><rect x="647" y="394" width="18" height="8" fill="#3e003e"/><rect x="647" y="386" width="18" height="8" fill="#3c003c"/><rect x="647" y="362" width="18" height="24" fill="#3b003b"/><rect x="647" y="338" width="18" height="24" fill="#3a003a"/><rect x="647" y="314" width="18" height="24" fill="#390039"/><rect x="647" y="298" width="18" height="16" fill="#380038"/><rect x="647" y="170" width="18" height="128" fill="#0c000c"/>
<rect x="665" y="810" width="18" height="8" fill="#2e0052"/><rect x="665" y="802" width="18" height="8" fill="#2c0054"/><rect x="665" y="794" width="18" height="8" fill="#2b0055"/><rect x="665" y="786" width="18" height="8" fill="#290057"/><rect x="665" y="778" width="18" height="8" fill="#280058"/><rect x="665" y="770" width="18" height="8" fill="#26005a"/><rect x="665" y="762" width="18" height="8" fill="#25005b"/><rect x="665" y="754" width="18" height="8" fill="#23005d"/><rect x="665" y="746" width="18" height="8" fill="#22005e"/><rect x="665" y="738" width="18" height="8" fill="#200060"/><rect x="665" y="730" width="18" height="8" fill="#1f0061"/><rect x="665" y="722" width="18" height="8" fill="#1b0065"/><rect x="665" y="714" width="18" height="8" fill="#170069"/><rect x="665" y="706" width="18" height="8" fill="#14006c"/><rect x="665" y="698" width="18" height="8" fill="#100070"/><rect x="665" y="690" width="18" height="8" fill="#0c0074"/><rect x="665" y="682" width="18" height="8" fill="#090077"/><rect x="665" y="674" width="18" height="8" fill="#070079"/><rect x="665" y="666" width="18" height="8" fill="#05007b"/><rect x="665" y="658" width="18" height="8" fill="#03007d"/><rect x="665" y="650" width="18" height="8" fill="#01007f"/><rect x="665" y="642" width="18" height="8" fill="#00017f"/><rect x="665" y="634" width="18" height="8" fill="#000779"/><rect x="665" y="626" width="18" height="8" fill="#000878"/><rect x="665" y="618" width="18" height="8" fill="#001070"/><rect x="665" y="610" width="18" height="8" fill="#00116f"/><rect x="665" y="602" width="18" height="8" fill="#00136d"/><rect x="665" y="594" width="18" height="8" fill="#001c64"/><rect x="665" y="586" width="18" height="8" fill="#00225e"/><rect x="665" y="578" width="18" height="8" fill="#00265a"/><rect x="665" y="570" width="18" height="8" fill="#00354b"/><rect x="665" y="562" width="18" height="8" fill="#003e42"/><rect x="665" y="554" width="18" height="8" fill="#004937"/><rect x="665" y="530" width="18" height="24" fill="#00512f"/><rect x="665" y="522" width="18" height="8" fill="#003e42"/><rect x="665" y="514" width="18" height="8" fill="#002f51"/><rect x="665" y="506" width="18" height="8" fill="#00255b"/><rect x="665" y="498" width="18" height="8" fill="#00166a"/><rect x="665" y="490" width="18" height="8" fill="#00017f"/><rect x="665" y="482" width="18" height="8" fill="#01007f"/><rect x="665" y="474" width="18" height="8" fill="#070079"/><rect x="665" y="466" width="18" height="8" fill="#0c0074"/><rect x="665" y="458" width="18" height="8" fill="#16006a"/><rect x="665" y="450" width="18" height="8" fill="#1f0061"/><rect x="665" y="442" width="18" height="8" fill="#25005b"/><rect x="665" y="434" width="18" height="8" fill="#2a0056"/><rect x="665" y="426" width="18" height="8" fill="#300050"/><rect x="665" y="418" width="18" height="8" fill="#370049"/><rect x="665" y="410" width="18" height="8" fill="#3b0045"/><rect x="665" y="402" width="18" height="8" fill="#3e0042"/><rect x="665" y="394" width="18" height="8" fill="#400040"/><rect x="665" y="370" width="18" height="24" fill="#3e003e"/><rect x="665" y="330" width="18" height="40" fill="#3d003d"/><rect x="665" y="290" width="18" height="40" fill="#3c003c"/><rect x="665" y="170" width="18" height="120" fill="#0c000c"/>
<rect x="683" y="810" width="18" height="8" fill="#1d0063"/><rect x="683" y="802" width="18" height="8" fill="#1c0064"/><rect x="683" y="794" width="18" height="8" fill="#1b0065"/><rect x="683" y="786" width="18" height="8" fill="#1a0066"/><rect x="683" y="778" width="18" height="8" fill="#190067"/><rect x="683" y="762" width="18" height="16" fill="#170069"/><rect x="683" y="754" width="18" height="8" fill="#16006a"/><rect x="683" y="746" width="18" height="8" fill="#14006c"/><rect x="683" y="738" width="18" height="8" fill="#12006e"/><rect x="683" y="730" width="18" height="8" fill="#100070"/><rect x="683" y="722" width="18" height="8" fill="#0e0072"/><rect x="683" y="714" width="18" height="8" fill="#0c0074"/><rect x="683" y="706" width="18" height="8" fill="#0a0076"/><rect x="683" y="698" width="18" height="8" fill="#090077"/><rect x="683" y="690" width="18" height="8" fill="#070079"/><rect x="683" y="682" width="18" height="8" fill="#05007b"/><rect x="683" y="674" width="18" height="8" fill="#03007d"/><rect x="683" y="666" width="18" height="8" fill="#01007f"/><rect x="683" y="658" width="18" height="8" fill="#00027e"/><rect x="683" y="650" width="18" height="8" fill="#000878"/><rect x="683" y="642" width="18" height="8" fill="#000d73"/><rect x="683" y="634" width="18" height="8" fill="#00166a"/><rect x="683" y="610" width="18" height="24" fill="#001c64"/><rect x="683" y="586" width="18" height="24" fill="#002060"/><rect x="683" y="578" width="18" height="8" fill="#00255b"/><rect x="683" y="570" width="18" height="8" fill="#002b55"/><rect x="683" y="562" width="18" height="8" fill="#00344c"/><rect x="683" y="554" width="18" height="8" fill="#003e42"/><rect x="683" y="546" width="18" height="8" fill="#004937"/><rect x="683" y="538" width="18" height="8" fill="#004f31"/><rect x="683" y="530" width="18" height="8" fill="#005729"/><rect x="683" y="522" width="18" height="8" fill="#00621e"/><rect x="683" y="514" width="18" height="8" fill="#00661a"/><rect x="683" y="506" width="18" height="8" fill="#00621e"/><rect x="683" y="498" width="18" height="8" fill="#005729"/><rect x="683" y="490" width="18" height="8" fill="#003e42"/><rect x="683" y="482" width="18" height="8" fill="#001769"/><rect x="683" y="474" width="18" height="8" fill="#00017f"/><rect x="683" y="466" width="18" height="8" fill="#03007d"/><rect x="683" y="458" width="18" height="8" fill="#070079"/><rect x="683" y="450" width="18" height="8" fill="#0f0071"/><rect x="683" y="442" width="18" height="8" fill="#15006b"/><rect x="683" y="434" width="18" height="8" fill="#1d0063"/><rect x="683" y="426" width="18" height="8" fill="#22005e"/><rect x="683" y="418" width="18" height="8" fill="#26005a"/><rect x="683" y="410" width="18" height="8" fill="#2c0054"/><rect x="683" y="402" width="18" height="8" fill="#32004e"/><rect x="683" y="394" width="18" height="8" fill="#36004a"/><rect x="683" y="386" width="18" height="8" fill="#3b0045"/><rect x="683" y="378" width="18" height="8" fill="#3d0043"/><rect x="683" y="362" width="18" height="16" fill="#400040"/><rect x="683" y="338" width="18" height="24" fill="#3f003f"/><rect x="683" y="322" width="18" height="16" fill="#3e003e"/><rect x="683" y="298" width="18" height="24" fill="#3d003d"/><rect x="683" y="282" width="18" height="16" fill="#3c003c"/><rect x="683" y="170" width="18" height="112" fill="#0c000c"/>
<rect x="701" y="810" width="18" height="8" fill="#14006c"/><rect x="701" y="802" width="18" height="8" fill="#13006d"/><rect x="701" y="794" width="18" height="8" fill="#11006f"/><rect x="701" y="786" width="18" height="8" fill="#100070"/><rect x="701" y="778" width="18" height="8" fill="#0f0071"/><rect x="701" y="770" width="18" height="8" fill="#0e0072"/><rect x="701" y="762" width="18" height="8" fill="#0c0074"/><rect x="701" y="754" width="18" height="8" fill="#0b0075"/><rect x="701" y="746" width="18" height="8" fill="#090077"/><rect x="701" y="738" width="18" height="8" fill="#070079"/><rect x="701" y="730" width="18" height="8" fill="#05007b"/><rect x="701" y="722" width="18" height="8" fill="#04007c"/><rect x="701" y="714" width="18" height="8" fill="#02007e"/><rect x="701" y="706" width="18" height="8" fill="#01007f"/><rect x="701" y="698" width="18" height="8" fill="#00037d"/><rect x="701" y="690" width="18" height="8" fill="#000878"/><rect x="701" y="682" width="18" height="8" fill="#000d73"/><rect x="701" y="674" width="18" height="8" fill="#00116f"/><rect x="701" y="666" width="18" height="8" fill="#00146c"/><rect x="701" y="658" width="18" height="8" fill="#001769"/><rect x="701" y="650" width="18" height="8" fill="#001967"/><rect x="701" y="642" width="18" height="8" fill="#001a66"/><rect x="701" y="634" width="18" height="8" fill="#001f61"/><rect x="701" y="570" width="18" height="64" fill="#00235d"/><rect x="701" y="562" width="18" height="8" fill="#00265a"/><rect x="701" y="554" width="18" height="8" fill="#002b55"/><rect x="701" y="546" width="18" height="8" fill="#002f51"/><rect x="701" y="538" width="18" height="8" fill="#003a46"/><rect x="701" y="530" width="18" height="8" fill="#004937"/><rect x="701" y="522" width="18" height="8" fill="#00532d"/><rect x="701" y="514" width="18" height="8" fill="#005c24"/><rect x="701" y="506" width="18" height="8" fill="#006b15"/><rect x="701" y="498" width="18" height="8" fill="#00750b"/><rect x="701" y="490" width="18" height="8" fill="#007808"/><rect x="701" y="482" width="18" height="8" fill="#007907"/><rect x="701" y="474" width="18" height="8" fill="#007a06"/><rect x="701" y="466" width="18" height="8" fill="#007e02"/><rect x="701" y="458" width="18" height="8" fill="#006b15"/><rect x="701" y="450" width="18" height="8" fill="#004f31"/><rect x="701" y="442" width="18" height="8" fill="#00255b"/><rect x="701" y="434" width="18" height="8" fill="#000080"/><rect x="701" y="426" width="18" height="8" fill="#090077"/><rect x="701" y="418" width="18" height="8" fill="#100070"/><rect x="701" y="410" width="18" height="8" fill="#170069"/><rect x="701" y="402" width="18" height="8" fill="#1f0061"/><rect x="701" y="394" width="18" height="8" fill="#24005c"/><rect x="701" y="386" width="18" height="8" fill="#290057"/><rect x="701" y="378" width="18" height="8" fill="#2e0052"/><rect x="701" y="370" width="18" height="8" fill="#31004f"/><rect x="701" y="362" width="18" height="8" fill="#33004d"/><rect x="701" y="354" width="18" height="8" fill="#35004b"/><rect x="701" y="346" width="18" height="8" fill="#390047"/><rect x="701" y="338" width="18" height="8" fill="#3d0043"/><rect x="701" y="274" width="18" height="64" fill="#400040"/><rect x="701" y="266" width="18" height="8" fill="#3f003f"/><rect x="701" y="170" width="18" height="96" fill="#0c000c"/>
<rect x="719" y="802" width="18" height="16" fill="#0d000d"/><rect x="719" y="794" width="18" height="8" fill="#100070"/><rect x="719" y="786" width="18" height="8" fill="#0e0072"/><rect x="719" y="778" width="18" height="8" fill="#0c0074"/><rect x="719" y="770" width="18" height="8" fill="#0a0076"/><rect x="719" y="762" width="18" height="8" fill="#090077"/><rect x="719" y="754" width="18" height="8" fill="#070079"/><rect x="719" y="746" width="18" height="8" fill="#06007a"/><rect x="719" y="738" width="18" height="8" fill="#05007b"/><rect x="719" y="730" width="18" height="8" fill="#04007c"/><rect x="719" y="714" width="18" height="16" fill="#03007d"/><rect x="719" y="706" width="18" height="8" fill="#000878"/><rect x="719" y="698" width="18" height="8" fill="#00116f"/><rect x="719" y="690" width="18" height="8" fill="#002060"/><rect x="719" y="682" width="18" height="8" fill="#00235d"/><rect x="719" y="674" width="18" height="8" fill="#00265a"/><rect x="719" y="666" width="18" height="8" fill="#002f51"/><rect x="719" y="658" width="18" height="8" fill="#00354b"/><rect x="719" y="642" width="18" height="16" fill="#003a46"/><rect x="719" y="634" width="18" height="8" fill="#003b45"/><rect x="719" y="586" width="18" height="48" fill="#004040"/><rect x="719" y="554" width="18" height="32" fill="#00413f"/><rect x="719" y="530" width="18" height="24" fill="#00443c"/><rect x="719" y="522" width="18" height="8" fill="#004937"/><rect x="719" y="514" width="18" height="8" fill="#004f31"/><rect x="719" y="506" width="18" height="8" fill="#00532d"/><rect x="719" y="498" width="18" height="8" fill="#005729"/><rect x="719" y="490" width="18" height="8" fill="#00621e"/><rect x="719" y="482" width="18" height="8" fill="#00661a"/><rect x="719" y="474" width="18" height="8" fill="#00750b"/><rect x="719" y="466" width="18" height="8" fill="#048100"/><rect x="719" y="450" width="18" height="16" fill="#1d8a00"/><rect x="719" y="426" width="18" height="24" fill="#248c00"/><rect x="719" y="418" width="18" height="8" fill="#188800"/><rect x="719" y="410" width="18" height="8" fill="#0b8400"/><rect x="719" y="402" width="18" height="8" fill="#00661a"/><rect x="719" y="394" width="18" height="8" fill="#00344c"/><rect x="719" y="386" width="18" height="8" fill="#00116f"/><rect x="719" y="378" width="18" height="8" fill="#000080"/><rect x="719" y="370" width="18" height="8" fill="#06007a"/><rect x="719" y="362" width="18" height="8" fill="#100070"/><rect x="719" y="354" width="18" height="8" fill="#1a0066"/><rect x="719" y="346" width="18" height="8" fill="#21005f"/><rect x="719" y="338" width="18" height="8" fill="#280058"/><rect x="719" y="330" width="18" height="8" fill="#2c0054"/><rect x="719" y="322" width="18" height="8" fill="#32004e"/><rect x="719" y="314" width="18" height="8" fill="#370049"/><rect x="719" y="306" width="18" height="8" fill="#3b0045"/><rect x="719" y="282" width="18" height="24" fill="#3f0041"/><rect x="719" y="242" width="18" height="40" fill="#400040"/><rect x="719" y="234" width="18" height="8" fill="#3f003f"/><rect x="719" y="170" width="18" height="64" fill="#0c000c"/>
<rect x="737" y="770" width="18" height="48" fill="#0d000d"/><rect x="737" y="762" width="18" height="8" fill="#300050"/><rect x="737" y="754" width="18" height="8" fill="#2c0054"/><rect x="737" y="746" width="18" height="8" fill="#26005a"/><rect x="737" y="738" width="18" height="8" fill="#1f0061"/><rect x="737" y="730" width="18" height="8" fill="#170069"/><rect x="737" y="722" width="18" height="8" fill="#100070"/><rect x="737" y="714" width="18" height="8" fill="#090077"/><rect x="737" y="690" width="18" height="24" fill="#03007d"/><rect x="737" y="682" width="18" height="8" fill="#00047c"/><rect x="737" y="674" width="18" height="8" fill="#00116f"/><rect x="737" y="666" width="18" height="8" fill="#001c64"/><rect x="737" y="658" width="18" height="8" fill="#002b55"/><rect x="737" y="650" width="18" height="8" fill="#003d43"/><rect x="737" y="642" width="18" height="8" fill="#004937"/><rect x="737" y="634" width="18" height="8" fill="#00532d"/><rect x="737" y="626" width="18" height="8" fill="#005729"/><rect x="737" y="618" width="18" height="8" fill="#005d23"/><rect x="737" y="610" width="18" height="8" fill="#00631d"/><rect x="737" y="602" width="18" height="8" fill="#00661a"/><rect x="737" y="594" width="18" height="8" fill="#006e12"/><rect x="737" y="554" width="18" height="40" fill="#00720e"/><rect x="737" y="506" width="18" height="48" fill="#00730d"/><rect x="737" y="482" width="18" height="24" fill="#00740c"/><rect x="737" y="474" width="18" height="8" fill="#00760a"/><rect x="737" y="466" width="18" height="8" fill="#007808"/><rect x="737" y="458" width="18" height="8" fill="#007b05"/><rect x="737" y="450" width="18" height="8" fill="#007d03"/><rect x="737" y="442" width="18" height="8" fill="#068200"/><rect x="737" y="434" width="18" height="8" fill="#0f8500"/><rect x="737" y="426" width="18" height="8" fill="#1d8a00"/><rect x="737" y="418" width="18" height="8" fill="#2f9000"/><rect x="737" y="386" width="18" height="32" fill="#3a9300"/><rect x="737" y="378" width="18" height="8" fill="#339100"/><rect x="737" y="370" width="18" height="8" fill="#0f8500"/><rect x="737" y="362" width="18" height="8" fill="#006b15"/><rect x="737" y="354" width="18" height="8" fill="#003e42"/><rect x="737" y="346" width="18" height="8" fill="#000d73"/><rect x="737" y="338" width="18" height="8" fill="#03007d"/><rect x="737" y="330" width="18" height="8" fill="#0c0074"/><rect x="737" y="322" width="18" height="8" fill="#14006c"/><rect x="737" y="314" width="18" height="8" fill="#1b0065"/><rect x="737" y="306" width="18" height="8" fill="#22005e"/><rect x="737" y="298" width="18" height="8" fill="#280058"/><rect x="737" y="290" width="18" height="8" fill="#2e0052"/><rect x="737" y="282" width="18" height="8" fill="#33004d"/><rect x="737" y="274" width="18" height="8" fill="#390047"/><rect x="737" y="266" width="18" height="8" fill="#3a0046"/><rect x="737" y="258" width="18" height="8" fill="#3b0045"/><rect x="737" y="250" width="18" height="8" fill="#3c0044"/><rect x="737" y="242" width="18" height="8" fill="#3d0043"/><rect x="737" y="234" width="18" height="8" fill="#3e0042"/><rect x="737" y="226" width="18" height="8" fill="#3f0041"/><rect x="737" y="218" width="18" height="8" fill="#400040"/><rect x="737" y="210" width="18" height="8" fill="#3f003f"/><rect x="737" y="170" width="18" height="40" fill="#0c000c"/>
<rect x="755" y="738" width="18" height="80" fill="#0d000d"/><rect x="755" y="730" width="18" height="8" fill="#370049"/><rect x="755" y="722" width="18" height="8" fill="#2e0052"/><rect x="755" y="714" width="18" height="8" fill="#26005a"/><rect x="755" y="706" width="18" height="8" fill="#21005f"/><rect x="755" y="698" width="18" height="8" fill="#1b0065"/><rect x="755" y="690" width="18" height="8" fill="#170069"/><rect x="755" y="682" width="18" height="8" fill="#11006f"/><rect x="755" y="674" width="18" height="8" fill="#0b0075"/><rect x="755" y="666" width="18" height="8" fill="#05007b"/><rect x="755" y="658" width="18" height="8" fill="#00047c"/><rect x="755" y="650" width="18" height="8" fill="#00116f"/><rect x="755" y="642" width="18" height="8" fill="#00225e"/><rect x="755" y="634" width="18" height="8" fill="#00344c"/><rect x="755" y="626" width="18" height="8" fill="#004937"/><rect x="755" y="618" width="18" height="8" fill="#00621e"/><rect x="755" y="610" width="18" height="8" fill="#00750b"/><rect x="755" y="602" width="18" height="8" fill="#007d03"/><rect x="755" y="594" width="18" height="8" fill="#0b8400"/><rect x="755" y="586" width="18" height="8" fill="#188800"/><rect x="755" y="578" width="18" height="8" fill="#248c00"/><rect x="755" y="554" width="18" height="24" fill="#2c8f00"/><rect x="755" y="530" width="18" height="24" fill="#2b8e00"/><rect x="755" y="522" width="18" height="8" fill="#2a8e00"/><rect x="755" y="514" width="18" height="8" fill="#248c00"/><rect x="755" y="498" width="18" height="16" fill="#238c00"/><rect x="755" y="474" width="18" height="24" fill="#228b00"/><rect x="755" y="466" width="18" height="8" fill="#218b00"/><rect x="755" y="458" width="18" height="8" fill="#148700"/><rect x="755" y="450" width="18" height="8" fill="#128600"/><rect x="755" y="434" width="18" height="16" fill="#0f8500"/><rect x="755" y="426" width="18" height="8" fill="#108500"/><rect x="755" y="418" width="18" height="8" fill="#128600"/><rect x="755" y="402" width="18" height="16" fill="#1d8a00"/><rect x="755" y="394" width="18" height="8" fill="#2f9000"/><rect x="755" y="386" width="18" height="8" fill="#3c9400"/><rect x="755" y="354" width="18" height="32" fill="#459700"/><rect x="755" y="346" width="18" height="8" fill="#1d8a00"/><rect x="755" y="338" width="18" height="8" fill="#007808"/><rect x="755" y="330" width="18" height="8" fill="#004937"/><rect x="755" y="322" width="18" height="8" fill="#001c64"/><rect x="755" y="314" width="18" height="8" fill="#01007f"/><rect x="755" y="306" width="18" height="8" fill="#090077"/><rect x="755" y="298" width="18" height="8" fill="#14006c"/><rect x="755" y="290" width="18" height="8" fill="#1d0063"/><rect x="755" y="282" width="18" height="8" fill="#280058"/><rect x="755" y="274" width="18" height="8" fill="#33004d"/><rect x="755" y="266" width="18" height="8" fill="#390047"/><rect x="755" y="202" width="18" height="64" fill="#400040"/><rect x="755" y="194" width="18" height="8" fill="#3f003f"/><rect x="755" y="170" width="18" height="24" fill="#0c000c"/>
<rect x="773" y="714" width="18" height="104" fill="#0d000d"/><rect x="773" y="706" width="18" height="8" fill="#390047"/><rect x="773" y="698" width="18" height="8" fill="#33004d"/><rect x="773" y="690" width="18" height="8" fill="#2e0052"/><rect x="773" y="682" width="18" height="8" fill="#26005a"/><rect x="773" y="674" width="18" height="8" fill="#1f0061"/><rect x="773" y="666" width="18" height="8" fill="#170069"/><rect x="773" y="658" width="18" height="8" fill="#11006f"/><rect x="773" y="650" width="18" height="8" fill="#090077"/><rect x="773" y="642" width="18" height="8" fill="#03007d"/><rect x="773" y="634" width="18" height="8" fill="#00047c"/><rect x="773" y="626" width="18" height="8" fill="#001c64"/><rect x="773" y="618" width="18" height="8" fill="#003e42"/><rect x="773" y="610" width="18" height="8" fill="#005c24"/><rect x="773" y="602" width="18" height="8" fill="#00750b"/><rect x="773" y="594" width="18" height="8" fill="#0f8500"/><rect x="773" y="586" width="18" height="8" fill="#288d00"/><rect x="773" y="578" width="18" height="8" fill="#3c9400"/><rect x="773" y="570" width="18" height="8" fill="#509b00"/><rect x="773" y="562" width="18" height="8" fill="#60a000"/><rect x="773" y="498" width="18" height="64" fill="#64a100"/><rect x="773" y="474" width="18" height="24" fill="#60a000"/><rect x="773" y="466" width="18" height="8" fill="#559c00"/><rect x="773" y="458" width="18" height="8" fill="#4a9900"/><rect x="773" y="450" width="18" height="8" fill="#419600"/><rect x="773" y="442" width="18" height="8" fill="#339100"/><rect x="773" y="418" width="18" height="24" fill="#248c00"/><rect x="773" y="378" width="18" height="40" fill="#1d8a00"/><rect x="773" y="370" width="18" height="8" fill="#288d00"/><rect x="773" y="346" width="18" height="24" fill="#3a9300"/><rect x="773" y="338" width="18" height="8" fill="#339100"/><rect x="773" y="330" width="18" height="8" fill="#0b8400"/><rect x="773" y="322" width="18" height="8" fill="#00661a"/><rect x="773" y="314" width="18" height="8" fill="#002b55"/><rect x="773" y="306" width="18" height="8" fill="#00047c"/><rect x="773" y="298" width="18" height="8" fill="#01007f"/><rect x="773" y="290" width="18" height="8" fill="#0b0075"/><rect x="773" y="282" width="18" height="8" fill="#14006c"/><rect x="773" y="274" width="18" height="8" fill="#1d0063"/><rect x="773" y="266" width="18" height="8" fill="#2e0052"/><rect x="773" y="258" width="18" height="8" fill="#390047"/><rect x="773" y="186" width="18" height="72" fill="#400040"/><rect x="773" y="178" width="18" height="8" fill="#3f003f"/><rect x="773" y="170" width="18" height="8" fill="#0c000c"/>
</g>
<path d="M538 33h326v1h-326zM538 47h326v1h-326zM538 33h1v15h-1zM863 33h1v15h-1zM592 33h1v3h-1zM592 45h1v3h-1zM646 33h1v3h-1zM646 45h1v3h-1zM700 33h1v3h-1zM700 45h1v3h-1zM755 33h1v3h-1zM755 45h1v3h-1zM809 33h1v3h-1zM809 45h1v3h-1z" fill="#000" shape-rendering="crispEdges"/>
<path d="M142.1 169.15H792.1V170.45H142.1zM142.1 817.75H792.1V819.05H142.1zM142.05 169.2H143.35V819H142.05zM790.85 169.2H792.15V819H790.85zM142.1 805.4H143.3V818.4H142.1zM142.1 169.8H143.3V182.8H142.1zM160.122 811.9H161.322V818.4H160.122zM160.122 169.8H161.322V176.3H160.122zM178.144 811.9H179.344V818.4H178.144zM178.144 169.8H179.344V176.3H178.144zM196.167 811.9H197.367V818.4H196.167zM196.167 169.8H197.367V176.3H196.167zM214.189 811.9H215.389V818.4H214.189zM214.189 169.8H215.389V176.3H214.189zM232.211 805.4H233.411V818.4H232.211zM232.211 169.8H233.411V182.8H232.211zM250.233 811.9H251.433V818.4H250.233zM250.233 169.8H251.433V176.3H250.233zM268.256 811.9H269.456V818.4H268.256zM268.256 169.8H269.456V176.3H268.256zM286.278 811.9H287.478V818.4H286.278zM286.278 169.8H287.478V176.3H286.278zM304.3 811.9H305.5V818.4H304.3zM304.3 169.8H305.5V176.3H304.3zM322.322 805.4H323.522V818.4H322.322zM322.322 169.8H323.522V182.8H322.322zM340.344 811.9H341.544V818.4H340.344zM340.344 169.8H341.544V176.3H340.344zM358.367 811.9H359.567V818.4H358.367zM358.367 169.8H359.567V176.3H358.367zM376.389 811.9H377.589V818.4H376.389zM376.389 169.8H377.589V176.3H376.389zM394.411 811.9H395.611V818.4H394.411zM394.411 169.8H395.611V176.3H394.411zM412.433 805.4H413.633V818.4H412.433zM412.433 169.8H413.633V182.8H412.433zM430.456 811.9H431.656V818.4H430.456zM430.456 169.8H431.656V176.3H430.456zM448.478 811.9H449.678V818.4H448.478zM448.478 169.8H449.678V176.3H448.478zM466.5 811.9H467.7V818.4H466.5zM466.5 169.8H467.7V176.3H466.5zM484.522 811.9H485.722V818.4H484.522zM484.522 169.8H485.722V176.3H484.522zM502.544 805.4H503.744V818.4H502.544zM502.544 169.8H503.744V182.8H502.544zM520.567 811.9H521.767V818.4H520.567zM520.567 169.8H521.767V176.3H520.567zM538.589 811.9H539.789V818.4H538.589zM538.589 169.8H539.789V176.3H538.589zM556.611 811.9H557.811V818.4H556.611zM556.611 169.8H557.811V176.3H556.611zM574.633 811.9H575.833V818.4H574.633zM574.633 169.8H575.833V176.3H574.633zM592.656 805.4H593.856V818.4H592.656zM592.656 169.8H593.856V182.8H592.656zM610.678 811.9H611.878V818.4H610.678zM610.678 169.8H611.878V176.3H610.678zM628.7 811.9H629.9V818.4H628.7zM628.7 169.8H629.9V176.3H628.7zM646.722 811.9H647.922V818.4H646.722zM646.722 169.8H647.922V176.3H646.722zM664.744 811.9H665.944V818.4H664.744zM664.744 169.8H665.944V176.3H664.744zM682.767 805.4H683.967V818.4H682.767zM682.767 169.8H683.967V182.8H682.767zM700.789 811.9H701.989V818.4H700.789zM700.789 169.8H701.989V176.3H700.789zM718.811 811.9H720.011V818.4H718.811zM718.811 169.8H720.011V176.3H718.811zM736.833 811.9H738.033V818.4H736.833zM736.833 169.8H738.033V176.3H736.833zM754.856 811.9H756.056V818.4H754.856zM754.856 169.8H756.056V176.3H754.856zM772.878 805.4H774.078V818.4H772.878zM772.878 169.8H774.078V182.8H772.878zM790.9 811.9H792.1V818.4H790.9zM790.9 169.8H792.1V176.3H790.9zM142.7 817.4H155.7V818.6H142.7zM778.5 817.4H791.5V818.6H778.5zM142.7 737.4H149.2V738.6H142.7zM785 737.4H791.5V738.6H785zM142.7 657.4H155.7V658.6H142.7zM778.5 657.4H791.5V658.6H778.5zM142.7 577.4H149.2V578.6H142.7zM785 577.4H791.5V578.6H785zM142.7 497.4H155.7V498.6H142.7zM778.5 497.4H791.5V498.6H778.5zM142.7 417.4H149.2V418.6H142.7zM785 417.4H791.5V418.6H785zM142.7 337.4H155.7V338.6H142.7zM778.5 337.4H791.5V338.6H778.5zM142.7 257.4H149.2V258.6H142.7zM785 257.4H791.5V258.6H785zM142.7 177.4H155.7V178.6H142.7zM778.5 177.4H791.5V178.6H778.5z" fill="#000"/>
<text x="701.3" y="19" text-anchor="middle">TEC</text>
<text x="538.5" y="81" text-anchor="middle">0</text><text x="592.7" y="81" text-anchor="middle">10</text><text x="646.8" y="81" text-anchor="middle">20</text><text x="701.0" y="81" text-anchor="middle">30</text><text x="755.2" y="81" text-anchor="middle">40</text><text x="809.3" y="81" text-anchor="middle">50</text><text x="863.5" y="81" text-anchor="middle">60</text>
<text x="470.7" y="155.6" text-anchor="middle" textLength="456" lengthAdjust="spacing" xml:space="preserve" style="white-space:pre">PBf20161116  UT: 14.25  mjd: 57708</text>
<text x="128.7" y="825" text-anchor="end">-40</text><text x="128.7" y="665" text-anchor="end">-20</text><text x="128.7" y="505" text-anchor="end">0</text><text x="128.7" y="345" text-anchor="end">20</text><text x="128.7" y="185" text-anchor="end">40</text>
<text x="143.2" y="852" text-anchor="middle">0</text><text x="233.2" y="852" text-anchor="middle">50</text><text x="323.2" y="852" text-anchor="middle">100</text><text x="413.2" y="852" text-anchor="middle">150</text><text x="503.2" y="852" text-anchor="middle">200</text><text x="593.2" y="852" text-anchor="middle">250</text><text x="683.2" y="852" text-anchor="middle">300</text><text x="773.2" y="852" text-anchor="middle">350</text>
<text x="467" y="892" text-anchor="middle">Longitude</text>
<text x="-1" y="418">Latitude</text>
</svg>
</body></html>
